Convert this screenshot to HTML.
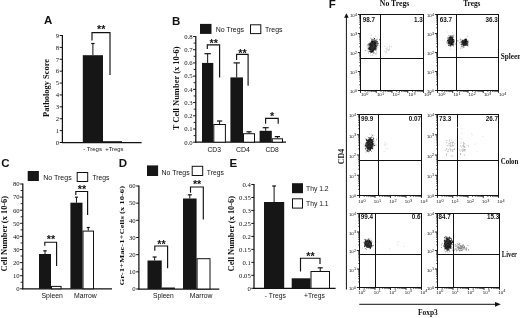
<!DOCTYPE html>
<html><head><meta charset="utf-8"><title>Figure</title>
<style>
html,body{margin:0;padding:0;background:#fff;}
body{width:520px;height:318px;overflow:hidden;}
svg{display:block;}
text.s{font-family:"Liberation Sans",sans-serif;}
text.r{font-family:"Liberation Serif",serif;}
</style></head><body>
<svg width="520" height="318" viewBox="0 0 520 318">
<rect x="0" y="0" width="520" height="318" fill="#fff"/>
<text class="s" x="44" y="24.3" style="font-size:11.5px;font-weight:bold;" fill="#111">A</text>
<line x1="62.4" y1="35.0" x2="62.4" y2="143.0" stroke="#111" stroke-width="1.25"/>
<line x1="61.9" y1="142.5" x2="141.6" y2="142.5" stroke="#111" stroke-width="1.25"/>
<line x1="59.699999999999996" y1="142.5" x2="62.4" y2="142.5" stroke="#111" stroke-width="1"/>
<text class="r" x="59.199999999999996" y="144.8" style="font-size:6.7px;" fill="#111" text-anchor="end">0</text>
<line x1="59.699999999999996" y1="130.61111111111111" x2="62.4" y2="130.61111111111111" stroke="#111" stroke-width="1"/>
<text class="r" x="59.199999999999996" y="132.91111111111113" style="font-size:6.7px;" fill="#111" text-anchor="end">1</text>
<line x1="59.699999999999996" y1="118.72222222222223" x2="62.4" y2="118.72222222222223" stroke="#111" stroke-width="1"/>
<text class="r" x="59.199999999999996" y="121.02222222222223" style="font-size:6.7px;" fill="#111" text-anchor="end">2</text>
<line x1="59.699999999999996" y1="106.83333333333333" x2="62.4" y2="106.83333333333333" stroke="#111" stroke-width="1"/>
<text class="r" x="59.199999999999996" y="109.13333333333333" style="font-size:6.7px;" fill="#111" text-anchor="end">3</text>
<line x1="59.699999999999996" y1="94.94444444444444" x2="62.4" y2="94.94444444444444" stroke="#111" stroke-width="1"/>
<text class="r" x="59.199999999999996" y="97.24444444444444" style="font-size:6.7px;" fill="#111" text-anchor="end">4</text>
<line x1="59.699999999999996" y1="83.05555555555556" x2="62.4" y2="83.05555555555556" stroke="#111" stroke-width="1"/>
<text class="r" x="59.199999999999996" y="85.35555555555555" style="font-size:6.7px;" fill="#111" text-anchor="end">5</text>
<line x1="59.699999999999996" y1="71.16666666666666" x2="62.4" y2="71.16666666666666" stroke="#111" stroke-width="1"/>
<text class="r" x="59.199999999999996" y="73.46666666666665" style="font-size:6.7px;" fill="#111" text-anchor="end">6</text>
<line x1="59.699999999999996" y1="59.27777777777777" x2="62.4" y2="59.27777777777777" stroke="#111" stroke-width="1"/>
<text class="r" x="59.199999999999996" y="61.57777777777777" style="font-size:6.7px;" fill="#111" text-anchor="end">7</text>
<line x1="59.699999999999996" y1="47.388888888888886" x2="62.4" y2="47.388888888888886" stroke="#111" stroke-width="1"/>
<text class="r" x="59.199999999999996" y="49.68888888888888" style="font-size:6.7px;" fill="#111" text-anchor="end">8</text>
<line x1="59.699999999999996" y1="35.5" x2="62.4" y2="35.5" stroke="#111" stroke-width="1"/>
<text class="r" x="59.199999999999996" y="37.8" style="font-size:6.7px;" fill="#111" text-anchor="end">9</text>
<rect x="82.80" y="55.20" width="20.20" height="87.30" fill="#161616"/>
<line x1="92.9" y1="55.2" x2="92.9" y2="43.5" stroke="#111" stroke-width="1"/>
<line x1="91.2" y1="43.5" x2="94.60000000000001" y2="43.5" stroke="#111" stroke-width="1.2"/>
<rect x="103.00" y="141.20" width="19.00" height="1.30" fill="#161616"/>
<polyline points="92,40.5 92,32.6 110,32.6 110,75" fill="none" stroke="#111" stroke-width="1.15"/>
<text class="s" x="101.2" y="32.7128" style="font-size:10.8px;font-weight:bold;" fill="#111" text-anchor="middle">**</text>
<text class="s" x="83.2" y="150.8" style="font-size:6.2px;" fill="#111" textLength="18.8" lengthAdjust="spacingAndGlyphs">- Tregs</text>
<text class="s" x="105.3" y="150.8" style="font-size:6.2px;" fill="#111" textLength="18.2" lengthAdjust="spacingAndGlyphs">+Tregs</text>
<text class="r" x="49" y="117" style="font-size:7.6px;font-weight:bold;" fill="#111" textLength="58" lengthAdjust="spacingAndGlyphs" transform="rotate(-90 49 117)">Pathology Score</text>
<text class="s" x="172" y="24.5" style="font-size:11.5px;font-weight:bold;" fill="#111">B</text>
<rect x="200.00" y="23.90" width="11.50" height="10.00" fill="#161616"/>
<text class="s" x="215.8" y="32.1" style="font-size:7px;" fill="#111" textLength="28.3" lengthAdjust="spacingAndGlyphs">No Tregs</text>
<rect x="250.50" y="24.80" width="10.30" height="8.80" fill="#fff" stroke="#111" stroke-width="1"/>
<text class="s" x="265" y="32.1" style="font-size:7px;" fill="#111" textLength="17.5" lengthAdjust="spacingAndGlyphs">Tregs</text>
<line x1="195.8" y1="36.0" x2="195.8" y2="142.7" stroke="#111" stroke-width="1.25"/>
<line x1="195.3" y1="142.2" x2="286" y2="142.2" stroke="#111" stroke-width="1.25"/>
<line x1="193.60000000000002" y1="135.59375" x2="195.8" y2="135.59375" stroke="#111" stroke-width="0.9"/>
<line x1="193.60000000000002" y1="122.38125" x2="195.8" y2="122.38125" stroke="#111" stroke-width="0.9"/>
<line x1="193.60000000000002" y1="109.16874999999999" x2="195.8" y2="109.16874999999999" stroke="#111" stroke-width="0.9"/>
<line x1="193.60000000000002" y1="95.95625" x2="195.8" y2="95.95625" stroke="#111" stroke-width="0.9"/>
<line x1="193.60000000000002" y1="82.74374999999999" x2="195.8" y2="82.74374999999999" stroke="#111" stroke-width="0.9"/>
<line x1="193.60000000000002" y1="69.53125" x2="195.8" y2="69.53125" stroke="#111" stroke-width="0.9"/>
<line x1="193.60000000000002" y1="56.31875" x2="195.8" y2="56.31875" stroke="#111" stroke-width="0.9"/>
<line x1="193.60000000000002" y1="43.10625" x2="195.8" y2="43.10625" stroke="#111" stroke-width="0.9"/>
<line x1="193.10000000000002" y1="142.2" x2="195.8" y2="142.2" stroke="#111" stroke-width="1"/>
<text class="r" x="192.60000000000002" y="144.5" style="font-size:6.7px;" fill="#111" text-anchor="end">0.0</text>
<line x1="193.10000000000002" y1="128.98749999999998" x2="195.8" y2="128.98749999999998" stroke="#111" stroke-width="1"/>
<text class="r" x="192.60000000000002" y="131.2875" style="font-size:6.7px;" fill="#111" text-anchor="end">0.1</text>
<line x1="193.10000000000002" y1="115.77499999999999" x2="195.8" y2="115.77499999999999" stroke="#111" stroke-width="1"/>
<text class="r" x="192.60000000000002" y="118.07499999999999" style="font-size:6.7px;" fill="#111" text-anchor="end">0.2</text>
<line x1="193.10000000000002" y1="102.5625" x2="195.8" y2="102.5625" stroke="#111" stroke-width="1"/>
<text class="r" x="192.60000000000002" y="104.8625" style="font-size:6.7px;" fill="#111" text-anchor="end">0.3</text>
<line x1="193.10000000000002" y1="89.35" x2="195.8" y2="89.35" stroke="#111" stroke-width="1"/>
<text class="r" x="192.60000000000002" y="91.64999999999999" style="font-size:6.7px;" fill="#111" text-anchor="end">0.4</text>
<line x1="193.10000000000002" y1="76.13749999999999" x2="195.8" y2="76.13749999999999" stroke="#111" stroke-width="1"/>
<text class="r" x="192.60000000000002" y="78.43749999999999" style="font-size:6.7px;" fill="#111" text-anchor="end">0.5</text>
<line x1="193.10000000000002" y1="62.925" x2="195.8" y2="62.925" stroke="#111" stroke-width="1"/>
<text class="r" x="192.60000000000002" y="65.225" style="font-size:6.7px;" fill="#111" text-anchor="end">0.6</text>
<line x1="193.10000000000002" y1="49.712500000000006" x2="195.8" y2="49.712500000000006" stroke="#111" stroke-width="1"/>
<text class="r" x="192.60000000000002" y="52.0125" style="font-size:6.7px;" fill="#111" text-anchor="end">0.7</text>
<line x1="193.10000000000002" y1="36.5" x2="195.8" y2="36.5" stroke="#111" stroke-width="1"/>
<text class="r" x="192.60000000000002" y="38.8" style="font-size:6.7px;" fill="#111" text-anchor="end">0.8</text>
<rect x="202.00" y="62.93" width="11.30" height="79.27" fill="#161616"/>
<line x1="207.65" y1="62.92500000000001" x2="207.65" y2="53.7" stroke="#111" stroke-width="1"/>
<line x1="204.45000000000002" y1="53.7" x2="210.85" y2="53.7" stroke="#111" stroke-width="1.2"/>
<rect x="213.80" y="124.50" width="11.60" height="17.70" fill="#fff" stroke="#111" stroke-width="1"/>
<line x1="219.60000000000002" y1="124" x2="219.60000000000002" y2="121" stroke="#111" stroke-width="1"/>
<line x1="217.00000000000003" y1="121" x2="222.20000000000002" y2="121" stroke="#111" stroke-width="1.2"/>
<rect x="230.40" y="77.40" width="12.60" height="64.80" fill="#161616"/>
<line x1="236.7" y1="77.4" x2="236.7" y2="62.9" stroke="#111" stroke-width="1"/>
<line x1="233.5" y1="62.9" x2="239.89999999999998" y2="62.9" stroke="#111" stroke-width="1.2"/>
<rect x="243.50" y="133.70" width="11.00" height="8.50" fill="#fff" stroke="#111" stroke-width="1"/>
<line x1="249.0" y1="133.2" x2="249.0" y2="131.8" stroke="#111" stroke-width="1"/>
<line x1="246.4" y1="131.8" x2="251.6" y2="131.8" stroke="#111" stroke-width="1.2"/>
<rect x="259.60" y="130.80" width="12.20" height="11.40" fill="#161616"/>
<line x1="265.70000000000005" y1="130.8" x2="265.70000000000005" y2="127.7" stroke="#111" stroke-width="1"/>
<line x1="262.70000000000005" y1="127.7" x2="268.70000000000005" y2="127.7" stroke="#111" stroke-width="1.2"/>
<rect x="272.30" y="138.80" width="10.20" height="3.40" fill="#fff" stroke="#111" stroke-width="1"/>
<line x1="277.4" y1="138.3" x2="277.4" y2="136.6" stroke="#111" stroke-width="1"/>
<line x1="274.79999999999995" y1="136.6" x2="280.0" y2="136.6" stroke="#111" stroke-width="1.2"/>
<polyline points="207.3,49 207.3,44.8 219.6,44.8 219.6,77.5" fill="none" stroke="#111" stroke-width="1.15"/>
<text class="s" x="213.64999999999998" y="46.61279999999999" style="font-size:10.8px;font-weight:bold;" fill="#111" text-anchor="middle">**</text>
<polyline points="236.6,60 236.6,54.4 248.1,54.4 248.1,85.8" fill="none" stroke="#111" stroke-width="1.15"/>
<text class="s" x="242.54999999999998" y="56.5128" style="font-size:10.8px;font-weight:bold;" fill="#111" text-anchor="middle">**</text>
<polyline points="265.6,123.8 265.6,118.4 278.2,118.4 278.2,123.8" fill="none" stroke="#111" stroke-width="1.15"/>
<text class="s" x="272.09999999999997" y="119.9128" style="font-size:10.8px;font-weight:bold;" fill="#111" text-anchor="middle">*</text>
<text class="s" x="207.5" y="151.5" style="font-size:7.3px;" fill="#111" textLength="13.5" lengthAdjust="spacingAndGlyphs">CD3</text>
<text class="s" x="236" y="151.5" style="font-size:7.3px;" fill="#111" textLength="14" lengthAdjust="spacingAndGlyphs">CD4</text>
<text class="s" x="265.5" y="151.5" style="font-size:7.3px;" fill="#111" textLength="13.3" lengthAdjust="spacingAndGlyphs">CD8</text>
<text class="r" x="178.7" y="130.3" style="font-size:7.4px;font-weight:bold;" fill="#111" textLength="84" lengthAdjust="spacingAndGlyphs" transform="rotate(-90 178.7 130.3)">T Cell Number (x 10-6)</text>
<text class="s" x="1.3" y="167.2" style="font-size:11.5px;font-weight:bold;" fill="#111">C</text>
<rect x="27.70" y="171.00" width="11.20" height="10.00" fill="#161616"/>
<text class="s" x="43.2" y="179.5" style="font-size:7px;" fill="#111" textLength="28.5" lengthAdjust="spacingAndGlyphs">No Tregs</text>
<rect x="77.20" y="172.50" width="10.50" height="9.00" fill="#fff" stroke="#111" stroke-width="1"/>
<text class="s" x="92.5" y="179.5" style="font-size:7px;" fill="#111" textLength="17" lengthAdjust="spacingAndGlyphs">Tregs</text>
<line x1="22.8" y1="183.5" x2="22.8" y2="289.3" stroke="#111" stroke-width="1.25"/>
<line x1="22.3" y1="288.8" x2="112" y2="288.8" stroke="#111" stroke-width="1.25"/>
<line x1="20.6" y1="282.25" x2="22.8" y2="282.25" stroke="#111" stroke-width="0.9"/>
<line x1="20.6" y1="269.15" x2="22.8" y2="269.15" stroke="#111" stroke-width="0.9"/>
<line x1="20.6" y1="256.05" x2="22.8" y2="256.05" stroke="#111" stroke-width="0.9"/>
<line x1="20.6" y1="242.95" x2="22.8" y2="242.95" stroke="#111" stroke-width="0.9"/>
<line x1="20.6" y1="229.85000000000002" x2="22.8" y2="229.85000000000002" stroke="#111" stroke-width="0.9"/>
<line x1="20.6" y1="216.75" x2="22.8" y2="216.75" stroke="#111" stroke-width="0.9"/>
<line x1="20.6" y1="203.64999999999998" x2="22.8" y2="203.64999999999998" stroke="#111" stroke-width="0.9"/>
<line x1="20.6" y1="190.55" x2="22.8" y2="190.55" stroke="#111" stroke-width="0.9"/>
<line x1="20.1" y1="288.8" x2="22.8" y2="288.8" stroke="#111" stroke-width="1"/>
<text class="r" x="19.6" y="291.1" style="font-size:6.7px;" fill="#111" text-anchor="end">0</text>
<line x1="20.1" y1="275.7" x2="22.8" y2="275.7" stroke="#111" stroke-width="1"/>
<text class="r" x="19.6" y="278.0" style="font-size:6.7px;" fill="#111" text-anchor="end">10</text>
<line x1="20.1" y1="262.6" x2="22.8" y2="262.6" stroke="#111" stroke-width="1"/>
<text class="r" x="19.6" y="264.90000000000003" style="font-size:6.7px;" fill="#111" text-anchor="end">20</text>
<line x1="20.1" y1="249.5" x2="22.8" y2="249.5" stroke="#111" stroke-width="1"/>
<text class="r" x="19.6" y="251.8" style="font-size:6.7px;" fill="#111" text-anchor="end">30</text>
<line x1="20.1" y1="236.4" x2="22.8" y2="236.4" stroke="#111" stroke-width="1"/>
<text class="r" x="19.6" y="238.70000000000002" style="font-size:6.7px;" fill="#111" text-anchor="end">40</text>
<line x1="20.1" y1="223.3" x2="22.8" y2="223.3" stroke="#111" stroke-width="1"/>
<text class="r" x="19.6" y="225.60000000000002" style="font-size:6.7px;" fill="#111" text-anchor="end">50</text>
<line x1="20.1" y1="210.2" x2="22.8" y2="210.2" stroke="#111" stroke-width="1"/>
<text class="r" x="19.6" y="212.5" style="font-size:6.7px;" fill="#111" text-anchor="end">60</text>
<line x1="20.1" y1="197.1" x2="22.8" y2="197.1" stroke="#111" stroke-width="1"/>
<text class="r" x="19.6" y="199.4" style="font-size:6.7px;" fill="#111" text-anchor="end">70</text>
<line x1="20.1" y1="184.0" x2="22.8" y2="184.0" stroke="#111" stroke-width="1"/>
<text class="r" x="19.6" y="186.3" style="font-size:6.7px;" fill="#111" text-anchor="end">80</text>
<rect x="39.00" y="254.00" width="12.00" height="34.80" fill="#161616"/>
<line x1="45.0" y1="254" x2="45.0" y2="250.8" stroke="#111" stroke-width="1"/>
<line x1="43.3" y1="250.8" x2="46.7" y2="250.8" stroke="#111" stroke-width="1.2"/>
<rect x="51.50" y="286.40" width="9.60" height="2.40" fill="#fff" stroke="#111" stroke-width="1"/>
<rect x="70.40" y="202.70" width="12.10" height="86.10" fill="#161616"/>
<line x1="76.45" y1="202.7" x2="76.45" y2="197.2" stroke="#111" stroke-width="1"/>
<line x1="74.95" y1="197.2" x2="77.95" y2="197.2" stroke="#111" stroke-width="1.2"/>
<rect x="83.00" y="231.10" width="10.50" height="57.70" fill="#fff" stroke="#111" stroke-width="1"/>
<line x1="88.25" y1="230.6" x2="88.25" y2="227.5" stroke="#111" stroke-width="1"/>
<line x1="86.75" y1="227.5" x2="89.75" y2="227.5" stroke="#111" stroke-width="1.2"/>
<polyline points="44.8,245.7 44.8,242.2 56.6,242.2 56.6,266" fill="none" stroke="#111" stroke-width="1.15"/>
<text class="s" x="50.900000000000006" y="243.4128" style="font-size:10.8px;font-weight:bold;" fill="#111" text-anchor="middle">**</text>
<polyline points="75.8,195 75.8,191.5 87.6,191.5 87.6,215" fill="none" stroke="#111" stroke-width="1.15"/>
<text class="s" x="81.89999999999999" y="193.0128" style="font-size:10.8px;font-weight:bold;" fill="#111" text-anchor="middle">**</text>
<text class="s" x="41.5" y="297.8" style="font-size:7.3px;" fill="#111" textLength="21.4" lengthAdjust="spacingAndGlyphs">Spleen</text>
<text class="s" x="74" y="297.8" style="font-size:7.3px;" fill="#111" textLength="22.8" lengthAdjust="spacingAndGlyphs">Marrow</text>
<text class="r" x="7.3" y="271.4" style="font-size:7.4px;font-weight:bold;" fill="#111" textLength="75.5" lengthAdjust="spacingAndGlyphs" transform="rotate(-90 7.3 271.4)">Cell Number (x 10-6)</text>
<text class="s" x="118.8" y="167.2" style="font-size:11.5px;font-weight:bold;" fill="#111">D</text>
<rect x="147.00" y="165.40" width="11.10" height="10.60" fill="#161616"/>
<text class="s" x="161.5" y="174.6" style="font-size:7px;" fill="#111" textLength="28.2" lengthAdjust="spacingAndGlyphs">No Tregs</text>
<rect x="192.20" y="166.30" width="10.50" height="9.20" fill="#fff" stroke="#111" stroke-width="1"/>
<text class="s" x="206.8" y="174.6" style="font-size:7px;" fill="#111" textLength="17" lengthAdjust="spacingAndGlyphs">Tregs</text>
<line x1="138.9" y1="185.5" x2="138.9" y2="289.5" stroke="#111" stroke-width="1.25"/>
<line x1="138.4" y1="289" x2="219.3" y2="289" stroke="#111" stroke-width="1.25"/>
<line x1="136.20000000000002" y1="289.0" x2="138.9" y2="289.0" stroke="#111" stroke-width="1"/>
<text class="r" x="135.70000000000002" y="291.3" style="font-size:6.7px;" fill="#111" text-anchor="end">0</text>
<line x1="136.20000000000002" y1="271.8333333333333" x2="138.9" y2="271.8333333333333" stroke="#111" stroke-width="1"/>
<text class="r" x="135.70000000000002" y="274.1333333333333" style="font-size:6.7px;" fill="#111" text-anchor="end">10</text>
<line x1="136.20000000000002" y1="254.66666666666666" x2="138.9" y2="254.66666666666666" stroke="#111" stroke-width="1"/>
<text class="r" x="135.70000000000002" y="256.96666666666664" style="font-size:6.7px;" fill="#111" text-anchor="end">20</text>
<line x1="136.20000000000002" y1="237.5" x2="138.9" y2="237.5" stroke="#111" stroke-width="1"/>
<text class="r" x="135.70000000000002" y="239.8" style="font-size:6.7px;" fill="#111" text-anchor="end">30</text>
<line x1="136.20000000000002" y1="220.33333333333331" x2="138.9" y2="220.33333333333331" stroke="#111" stroke-width="1"/>
<text class="r" x="135.70000000000002" y="222.63333333333333" style="font-size:6.7px;" fill="#111" text-anchor="end">40</text>
<line x1="136.20000000000002" y1="203.16666666666666" x2="138.9" y2="203.16666666666666" stroke="#111" stroke-width="1"/>
<text class="r" x="135.70000000000002" y="205.46666666666667" style="font-size:6.7px;" fill="#111" text-anchor="end">50</text>
<line x1="136.20000000000002" y1="186.0" x2="138.9" y2="186.0" stroke="#111" stroke-width="1"/>
<text class="r" x="135.70000000000002" y="188.3" style="font-size:6.7px;" fill="#111" text-anchor="end">60</text>
<rect x="147.50" y="260.50" width="14.25" height="28.50" fill="#161616"/>
<line x1="154.625" y1="260.5" x2="154.625" y2="257" stroke="#111" stroke-width="1"/>
<line x1="152.625" y1="257" x2="156.625" y2="257" stroke="#111" stroke-width="1.2"/>
<rect x="161.75" y="287.50" width="13.20" height="1.50" fill="#161616"/>
<rect x="183.00" y="198.50" width="13.60" height="90.50" fill="#161616"/>
<line x1="189.8" y1="198.5" x2="189.8" y2="194.8" stroke="#111" stroke-width="1"/>
<line x1="187.8" y1="194.8" x2="191.8" y2="194.8" stroke="#111" stroke-width="1.2"/>
<rect x="197.10" y="258.70" width="12.90" height="30.30" fill="#fff" stroke="#111" stroke-width="1"/>
<polyline points="154.8,250.7 154.8,246 167.6,246 167.6,268.3" fill="none" stroke="#111" stroke-width="1.15"/>
<text class="s" x="161.39999999999998" y="247.5128" style="font-size:10.8px;font-weight:bold;" fill="#111" text-anchor="middle">**</text>
<polyline points="190.5,192.7 190.5,187 203.3,187 203.3,219.5" fill="none" stroke="#111" stroke-width="1.15"/>
<text class="s" x="197.1" y="188.3128" style="font-size:10.8px;font-weight:bold;" fill="#111" text-anchor="middle">**</text>
<text class="s" x="153" y="298" style="font-size:7.3px;" fill="#111" textLength="20.8" lengthAdjust="spacingAndGlyphs">Spleen</text>
<text class="s" x="189.8" y="298" style="font-size:7.3px;" fill="#111" textLength="22.7" lengthAdjust="spacingAndGlyphs">Marrow</text>
<text class="r" x="124.4" y="285.4" style="font-size:7.1px;font-weight:bold;" fill="#111" textLength="99.5" lengthAdjust="spacingAndGlyphs" transform="rotate(-90 124.4 285.4)">Gr-1+Mac-1+Cells (x 10-6)</text>
<text class="s" x="229.6" y="167.2" style="font-size:11.5px;font-weight:bold;" fill="#111">E</text>
<line x1="254" y1="184.0" x2="254" y2="288.8" stroke="#111" stroke-width="1.25"/>
<line x1="253.5" y1="288.3" x2="335.6" y2="288.3" stroke="#111" stroke-width="1.25"/>
<line x1="251.3" y1="288.3" x2="254" y2="288.3" stroke="#111" stroke-width="1"/>
<text class="r" x="250.8" y="290.6" style="font-size:6.7px;" fill="#111" text-anchor="end">0</text>
<line x1="251.3" y1="275.325" x2="254" y2="275.325" stroke="#111" stroke-width="1"/>
<text class="r" x="250.8" y="277.625" style="font-size:6.7px;" fill="#111" text-anchor="end">0.05</text>
<line x1="251.3" y1="262.35" x2="254" y2="262.35" stroke="#111" stroke-width="1"/>
<text class="r" x="250.8" y="264.65000000000003" style="font-size:6.7px;" fill="#111" text-anchor="end">0.1</text>
<line x1="251.3" y1="249.375" x2="254" y2="249.375" stroke="#111" stroke-width="1"/>
<text class="r" x="250.8" y="251.675" style="font-size:6.7px;" fill="#111" text-anchor="end">0.15</text>
<line x1="251.3" y1="236.4" x2="254" y2="236.4" stroke="#111" stroke-width="1"/>
<text class="r" x="250.8" y="238.70000000000002" style="font-size:6.7px;" fill="#111" text-anchor="end">0.2</text>
<line x1="251.3" y1="223.425" x2="254" y2="223.425" stroke="#111" stroke-width="1"/>
<text class="r" x="250.8" y="225.72500000000002" style="font-size:6.7px;" fill="#111" text-anchor="end">0.25</text>
<line x1="251.3" y1="210.45" x2="254" y2="210.45" stroke="#111" stroke-width="1"/>
<text class="r" x="250.8" y="212.75" style="font-size:6.7px;" fill="#111" text-anchor="end">0.3</text>
<line x1="251.3" y1="197.475" x2="254" y2="197.475" stroke="#111" stroke-width="1"/>
<text class="r" x="250.8" y="199.775" style="font-size:6.7px;" fill="#111" text-anchor="end">0.35</text>
<line x1="251.3" y1="184.5" x2="254" y2="184.5" stroke="#111" stroke-width="1"/>
<text class="r" x="250.8" y="186.8" style="font-size:6.7px;" fill="#111" text-anchor="end">0.4</text>
<rect x="264.00" y="202.00" width="20.20" height="86.30" fill="#161616"/>
<line x1="274.1" y1="202" x2="274.1" y2="186" stroke="#111" stroke-width="1"/>
<line x1="272.20000000000005" y1="186" x2="276.0" y2="186" stroke="#111" stroke-width="1.2"/>
<rect x="291.70" y="278.30" width="18.80" height="10.00" fill="#161616"/>
<rect x="311.00" y="271.50" width="18.50" height="16.80" fill="#fff" stroke="#111" stroke-width="1"/>
<line x1="320.25" y1="271" x2="320.25" y2="267.8" stroke="#111" stroke-width="1"/>
<line x1="317.75" y1="267.8" x2="322.75" y2="267.8" stroke="#111" stroke-width="1.2"/>
<polyline points="300.5,271.5 300.5,258.2 320,258.2 320,264" fill="none" stroke="#111" stroke-width="1.15"/>
<text class="s" x="310.45" y="259.9128" style="font-size:10.8px;font-weight:bold;" fill="#111" text-anchor="middle">**</text>
<rect x="292.00" y="183.20" width="11.00" height="10.00" fill="#161616"/>
<text class="s" x="306" y="191" style="font-size:7px;" fill="#111" textLength="22.6" lengthAdjust="spacingAndGlyphs">Thy 1.2</text>
<rect x="292.50" y="198.80" width="10.00" height="9.30" fill="#fff" stroke="#111" stroke-width="1"/>
<text class="s" x="306" y="205.8" style="font-size:7px;" fill="#111" textLength="22.6" lengthAdjust="spacingAndGlyphs">Thy 1.1</text>
<text class="s" x="264.8" y="297.9" style="font-size:7.3px;" fill="#111" textLength="21" lengthAdjust="spacingAndGlyphs">- Tregs</text>
<text class="s" x="304" y="297.9" style="font-size:7.3px;" fill="#111" textLength="20.8" lengthAdjust="spacingAndGlyphs">+Tregs</text>
<text class="r" x="234.2" y="271.4" style="font-size:7.4px;font-weight:bold;" fill="#111" textLength="75.5" lengthAdjust="spacingAndGlyphs" transform="rotate(-90 234.2 271.4)">Cell Number (x 10-6)</text>
<text class="s" x="328.8" y="7.6" style="font-size:11.5px;font-weight:bold;" fill="#111">F</text>
<text class="r" x="379.8" y="5.5" style="font-size:7.6px;font-weight:bold;" fill="#111" textLength="29.5" lengthAdjust="spacingAndGlyphs">No Tregs</text>
<text class="r" x="463.2" y="5.5" style="font-size:7.6px;font-weight:bold;" fill="#111" textLength="17.2" lengthAdjust="spacingAndGlyphs">Tregs</text>
<line x1="346.4" y1="17" x2="346.4" y2="289.5" stroke="#111" stroke-width="1"/>
<polygon points="346.4,13.3 344.1,17.8 348.7,17.8" fill="#111"/>
<line x1="359.3" y1="304.3" x2="497" y2="304.3" stroke="#111" stroke-width="1"/>
<polygon points="500.8,304.3 495,301.9 495,306.7" fill="#111"/>
<text class="r" x="418.0" y="314.6" style="font-size:7.8px;font-weight:bold;" fill="#111" textLength="19.8" lengthAdjust="spacingAndGlyphs">Foxp3</text>
<text class="r" x="344" y="164.3" style="font-size:7.8px;font-weight:bold;" fill="#111" textLength="15.5" lengthAdjust="spacingAndGlyphs" transform="rotate(-90 344 164.3)">CD4</text>
<text class="r" x="500.8" y="58.6" style="font-size:8px;font-weight:bold;" fill="#111" textLength="20.4" lengthAdjust="spacingAndGlyphs">Spleen</text>
<text class="r" x="500.8" y="164.2" style="font-size:8px;font-weight:bold;" fill="#111" textLength="17.6" lengthAdjust="spacingAndGlyphs">Colon</text>
<text class="r" x="501.8" y="256.6" style="font-size:8px;font-weight:bold;" fill="#111" textLength="15.2" lengthAdjust="spacingAndGlyphs">Liver</text>
<defs><filter id="bl" x="-20%" y="-20%" width="140%" height="140%"><feGaussianBlur stdDeviation="0.35"/></filter></defs>
<rect x="360.50" y="14.50" width="63.00" height="76.00" fill="#fff" stroke="#111" stroke-width="1"/>
<line x1="380.5" y1="14.5" x2="380.5" y2="90.5" stroke="#111" stroke-width="1"/>
<line x1="360.5" y1="58.5" x2="423.5" y2="58.5" stroke="#111" stroke-width="1"/>
<path d="M359.0 84.8h1.5M365.2 90.5v1.5M359.0 81.4h1.5M368.0 90.5v1.5M359.0 79.1h1.5M370.0 90.5v1.5M359.0 77.2h1.5M371.5 90.5v1.5M359.0 75.7h1.5M372.8 90.5v1.5M359.0 74.4h1.5M373.8 90.5v1.5M359.0 73.3h1.5M374.7 90.5v1.5M359.0 72.4h1.5M375.5 90.5v1.5M359.0 65.8h1.5M381.0 90.5v1.5M359.0 62.4h1.5M383.8 90.5v1.5M359.0 60.1h1.5M385.7 90.5v1.5M359.0 58.2h1.5M387.3 90.5v1.5M359.0 56.7h1.5M388.5 90.5v1.5M359.0 55.4h1.5M389.6 90.5v1.5M359.0 54.3h1.5M390.5 90.5v1.5M359.0 53.4h1.5M391.3 90.5v1.5M359.0 46.8h1.5M396.7 90.5v1.5M359.0 43.4h1.5M399.5 90.5v1.5M359.0 41.1h1.5M401.5 90.5v1.5M359.0 39.2h1.5M403.0 90.5v1.5M359.0 37.7h1.5M404.3 90.5v1.5M359.0 36.4h1.5M405.3 90.5v1.5M359.0 35.3h1.5M406.2 90.5v1.5M359.0 34.4h1.5M407.0 90.5v1.5M359.0 27.8h1.5M412.5 90.5v1.5M359.0 24.4h1.5M415.3 90.5v1.5M359.0 22.1h1.5M417.2 90.5v1.5M359.0 20.2h1.5M418.8 90.5v1.5M359.0 18.7h1.5M420.0 90.5v1.5M359.0 17.4h1.5M421.1 90.5v1.5M359.0 16.3h1.5M422.0 90.5v1.5M359.0 15.4h1.5M422.8 90.5v1.5" stroke="#222" stroke-width="0.7" fill="none"/>
<line x1="357.9" y1="90.5" x2="360.5" y2="90.5" stroke="#111" stroke-width="0.9"/>
<line x1="360.5" y1="90.5" x2="360.5" y2="92.9" stroke="#111" stroke-width="0.9"/>
<text class="s" x="349.9" y="93.4" style="font-size:4.4px" fill="#111">10<tspan dx="0.2" dy="-1.9" style="font-size:3.8px">0</tspan></text>
<text class="s" x="361.1" y="96.4" style="font-size:4.4px" fill="#111">10<tspan dx="0.2" dy="-1.9" style="font-size:3.8px">0</tspan></text>
<line x1="357.9" y1="71.5" x2="360.5" y2="71.5" stroke="#111" stroke-width="0.9"/>
<line x1="376.25" y1="90.5" x2="376.25" y2="92.9" stroke="#111" stroke-width="0.9"/>
<text class="s" x="349.9" y="74.4" style="font-size:4.4px" fill="#111">10<tspan dx="0.2" dy="-1.9" style="font-size:3.8px">1</tspan></text>
<text class="s" x="376.9" y="96.4" style="font-size:4.4px" fill="#111">10<tspan dx="0.2" dy="-1.9" style="font-size:3.8px">1</tspan></text>
<line x1="357.9" y1="52.5" x2="360.5" y2="52.5" stroke="#111" stroke-width="0.9"/>
<line x1="392.0" y1="90.5" x2="392.0" y2="92.9" stroke="#111" stroke-width="0.9"/>
<text class="s" x="349.9" y="55.4" style="font-size:4.4px" fill="#111">10<tspan dx="0.2" dy="-1.9" style="font-size:3.8px">2</tspan></text>
<text class="s" x="392.6" y="96.4" style="font-size:4.4px" fill="#111">10<tspan dx="0.2" dy="-1.9" style="font-size:3.8px">2</tspan></text>
<line x1="357.9" y1="33.5" x2="360.5" y2="33.5" stroke="#111" stroke-width="0.9"/>
<line x1="407.75" y1="90.5" x2="407.75" y2="92.9" stroke="#111" stroke-width="0.9"/>
<text class="s" x="349.9" y="36.4" style="font-size:4.4px" fill="#111">10<tspan dx="0.2" dy="-1.9" style="font-size:3.8px">3</tspan></text>
<text class="s" x="408.4" y="96.4" style="font-size:4.4px" fill="#111">10<tspan dx="0.2" dy="-1.9" style="font-size:3.8px">3</tspan></text>
<line x1="357.9" y1="14.5" x2="360.5" y2="14.5" stroke="#111" stroke-width="0.9"/>
<line x1="423.5" y1="90.5" x2="423.5" y2="92.9" stroke="#111" stroke-width="0.9"/>
<text class="s" x="349.9" y="17.4" style="font-size:4.4px" fill="#111">10<tspan dx="0.2" dy="-1.9" style="font-size:3.8px">4</tspan></text>
<text class="s" x="424.1" y="96.4" style="font-size:4.4px" fill="#111">10<tspan dx="0.2" dy="-1.9" style="font-size:3.8px">4</tspan></text>
<text class="s" x="362.7" y="21.7" style="font-size:6.3px;font-weight:bold;" fill="#111">98.7</text>
<text class="s" x="422.7" y="21.7" style="font-size:6.3px;font-weight:bold;" fill="#111" text-anchor="end">1.3</text>
<rect x="437.50" y="14.50" width="61.00" height="76.00" fill="#fff" stroke="#111" stroke-width="1"/>
<line x1="456.5" y1="14.5" x2="456.5" y2="90.5" stroke="#111" stroke-width="1"/>
<line x1="437.5" y1="57.5" x2="498.5" y2="57.5" stroke="#111" stroke-width="1"/>
<path d="M436.0 84.8h1.5M442.1 90.5v1.5M436.0 81.4h1.5M444.8 90.5v1.5M436.0 79.1h1.5M446.7 90.5v1.5M436.0 77.2h1.5M448.2 90.5v1.5M436.0 75.7h1.5M449.4 90.5v1.5M436.0 74.4h1.5M450.4 90.5v1.5M436.0 73.3h1.5M451.3 90.5v1.5M436.0 72.4h1.5M452.1 90.5v1.5M436.0 65.8h1.5M457.3 90.5v1.5M436.0 62.4h1.5M460.0 90.5v1.5M436.0 60.1h1.5M461.9 90.5v1.5M436.0 58.2h1.5M463.4 90.5v1.5M436.0 56.7h1.5M464.6 90.5v1.5M436.0 55.4h1.5M465.6 90.5v1.5M436.0 54.3h1.5M466.5 90.5v1.5M436.0 53.4h1.5M467.3 90.5v1.5M436.0 46.8h1.5M472.6 90.5v1.5M436.0 43.4h1.5M475.3 90.5v1.5M436.0 41.1h1.5M477.2 90.5v1.5M436.0 39.2h1.5M478.7 90.5v1.5M436.0 37.7h1.5M479.9 90.5v1.5M436.0 36.4h1.5M480.9 90.5v1.5M436.0 35.3h1.5M481.8 90.5v1.5M436.0 34.4h1.5M482.6 90.5v1.5M436.0 27.8h1.5M487.8 90.5v1.5M436.0 24.4h1.5M490.5 90.5v1.5M436.0 22.1h1.5M492.4 90.5v1.5M436.0 20.2h1.5M493.9 90.5v1.5M436.0 18.7h1.5M495.1 90.5v1.5M436.0 17.4h1.5M496.1 90.5v1.5M436.0 16.3h1.5M497.0 90.5v1.5M436.0 15.4h1.5M497.8 90.5v1.5" stroke="#222" stroke-width="0.7" fill="none"/>
<line x1="434.9" y1="90.5" x2="437.5" y2="90.5" stroke="#111" stroke-width="0.9"/>
<line x1="437.5" y1="90.5" x2="437.5" y2="92.9" stroke="#111" stroke-width="0.9"/>
<text class="s" x="426.9" y="93.4" style="font-size:4.4px" fill="#111">10<tspan dx="0.2" dy="-1.9" style="font-size:3.8px">0</tspan></text>
<text class="s" x="438.1" y="96.4" style="font-size:4.4px" fill="#111">10<tspan dx="0.2" dy="-1.9" style="font-size:3.8px">0</tspan></text>
<line x1="434.9" y1="71.5" x2="437.5" y2="71.5" stroke="#111" stroke-width="0.9"/>
<line x1="452.75" y1="90.5" x2="452.75" y2="92.9" stroke="#111" stroke-width="0.9"/>
<text class="s" x="426.9" y="74.4" style="font-size:4.4px" fill="#111">10<tspan dx="0.2" dy="-1.9" style="font-size:3.8px">1</tspan></text>
<text class="s" x="453.4" y="96.4" style="font-size:4.4px" fill="#111">10<tspan dx="0.2" dy="-1.9" style="font-size:3.8px">1</tspan></text>
<line x1="434.9" y1="52.5" x2="437.5" y2="52.5" stroke="#111" stroke-width="0.9"/>
<line x1="468.0" y1="90.5" x2="468.0" y2="92.9" stroke="#111" stroke-width="0.9"/>
<text class="s" x="426.9" y="55.4" style="font-size:4.4px" fill="#111">10<tspan dx="0.2" dy="-1.9" style="font-size:3.8px">2</tspan></text>
<text class="s" x="468.6" y="96.4" style="font-size:4.4px" fill="#111">10<tspan dx="0.2" dy="-1.9" style="font-size:3.8px">2</tspan></text>
<line x1="434.9" y1="33.5" x2="437.5" y2="33.5" stroke="#111" stroke-width="0.9"/>
<line x1="483.25" y1="90.5" x2="483.25" y2="92.9" stroke="#111" stroke-width="0.9"/>
<text class="s" x="426.9" y="36.4" style="font-size:4.4px" fill="#111">10<tspan dx="0.2" dy="-1.9" style="font-size:3.8px">3</tspan></text>
<text class="s" x="483.9" y="96.4" style="font-size:4.4px" fill="#111">10<tspan dx="0.2" dy="-1.9" style="font-size:3.8px">3</tspan></text>
<line x1="434.9" y1="14.5" x2="437.5" y2="14.5" stroke="#111" stroke-width="0.9"/>
<line x1="498.5" y1="90.5" x2="498.5" y2="92.9" stroke="#111" stroke-width="0.9"/>
<text class="s" x="426.9" y="17.4" style="font-size:4.4px" fill="#111">10<tspan dx="0.2" dy="-1.9" style="font-size:3.8px">4</tspan></text>
<text class="s" x="499.1" y="96.4" style="font-size:4.4px" fill="#111">10<tspan dx="0.2" dy="-1.9" style="font-size:3.8px">4</tspan></text>
<text class="s" x="439.7" y="21.7" style="font-size:6.3px;font-weight:bold;" fill="#111">63.7</text>
<text class="s" x="497.7" y="21.7" style="font-size:6.3px;font-weight:bold;" fill="#111" text-anchor="end">36.3</text>
<rect x="359.50" y="114.50" width="62.00" height="81.00" fill="#fff" stroke="#111" stroke-width="1"/>
<line x1="378.5" y1="114.5" x2="378.5" y2="195.5" stroke="#111" stroke-width="1"/>
<line x1="359.5" y1="160.5" x2="421.5" y2="160.5" stroke="#111" stroke-width="1"/>
<path d="M358.0 189.4h1.5M364.2 195.5v1.5M358.0 185.8h1.5M366.9 195.5v1.5M358.0 183.3h1.5M368.8 195.5v1.5M358.0 181.3h1.5M370.3 195.5v1.5M358.0 179.7h1.5M371.6 195.5v1.5M358.0 178.4h1.5M372.6 195.5v1.5M358.0 177.2h1.5M373.5 195.5v1.5M358.0 176.2h1.5M374.3 195.5v1.5M358.0 169.2h1.5M379.7 195.5v1.5M358.0 165.6h1.5M382.4 195.5v1.5M358.0 163.1h1.5M384.3 195.5v1.5M358.0 161.1h1.5M385.8 195.5v1.5M358.0 159.5h1.5M387.1 195.5v1.5M358.0 158.1h1.5M388.1 195.5v1.5M358.0 157.0h1.5M389.0 195.5v1.5M358.0 155.9h1.5M389.8 195.5v1.5M358.0 148.9h1.5M395.2 195.5v1.5M358.0 145.3h1.5M397.9 195.5v1.5M358.0 142.8h1.5M399.8 195.5v1.5M358.0 140.8h1.5M401.3 195.5v1.5M358.0 139.2h1.5M402.6 195.5v1.5M358.0 137.9h1.5M403.6 195.5v1.5M358.0 136.7h1.5M404.5 195.5v1.5M358.0 135.7h1.5M405.3 195.5v1.5M358.0 128.7h1.5M410.7 195.5v1.5M358.0 125.1h1.5M413.4 195.5v1.5M358.0 122.6h1.5M415.3 195.5v1.5M358.0 120.6h1.5M416.8 195.5v1.5M358.0 119.0h1.5M418.1 195.5v1.5M358.0 117.6h1.5M419.1 195.5v1.5M358.0 116.5h1.5M420.0 195.5v1.5M358.0 115.4h1.5M420.8 195.5v1.5" stroke="#222" stroke-width="0.7" fill="none"/>
<line x1="356.9" y1="195.5" x2="359.5" y2="195.5" stroke="#111" stroke-width="0.9"/>
<line x1="359.5" y1="195.5" x2="359.5" y2="197.9" stroke="#111" stroke-width="0.9"/>
<text class="s" x="348.9" y="198.4" style="font-size:4.4px" fill="#111">10<tspan dx="0.2" dy="-1.9" style="font-size:3.8px">0</tspan></text>
<text class="s" x="358.3" y="203.4" style="font-size:4.4px" fill="#111">10<tspan dx="0.2" dy="-1.9" style="font-size:3.8px">0</tspan></text>
<line x1="356.9" y1="175.25" x2="359.5" y2="175.25" stroke="#111" stroke-width="0.9"/>
<line x1="375.0" y1="195.5" x2="375.0" y2="197.9" stroke="#111" stroke-width="0.9"/>
<text class="s" x="348.9" y="178.2" style="font-size:4.4px" fill="#111">10<tspan dx="0.2" dy="-1.9" style="font-size:3.8px">1</tspan></text>
<text class="s" x="373.8" y="203.4" style="font-size:4.4px" fill="#111">10<tspan dx="0.2" dy="-1.9" style="font-size:3.8px">1</tspan></text>
<line x1="356.9" y1="155.0" x2="359.5" y2="155.0" stroke="#111" stroke-width="0.9"/>
<line x1="390.5" y1="195.5" x2="390.5" y2="197.9" stroke="#111" stroke-width="0.9"/>
<text class="s" x="348.9" y="157.9" style="font-size:4.4px" fill="#111">10<tspan dx="0.2" dy="-1.9" style="font-size:3.8px">2</tspan></text>
<text class="s" x="389.3" y="203.4" style="font-size:4.4px" fill="#111">10<tspan dx="0.2" dy="-1.9" style="font-size:3.8px">2</tspan></text>
<line x1="356.9" y1="134.75" x2="359.5" y2="134.75" stroke="#111" stroke-width="0.9"/>
<line x1="406.0" y1="195.5" x2="406.0" y2="197.9" stroke="#111" stroke-width="0.9"/>
<text class="s" x="348.9" y="137.7" style="font-size:4.4px" fill="#111">10<tspan dx="0.2" dy="-1.9" style="font-size:3.8px">3</tspan></text>
<text class="s" x="404.8" y="203.4" style="font-size:4.4px" fill="#111">10<tspan dx="0.2" dy="-1.9" style="font-size:3.8px">3</tspan></text>
<line x1="356.9" y1="114.5" x2="359.5" y2="114.5" stroke="#111" stroke-width="0.9"/>
<line x1="421.5" y1="195.5" x2="421.5" y2="197.9" stroke="#111" stroke-width="0.9"/>
<text class="s" x="348.9" y="117.4" style="font-size:4.4px" fill="#111">10<tspan dx="0.2" dy="-1.9" style="font-size:3.8px">4</tspan></text>
<text class="s" x="420.3" y="203.4" style="font-size:4.4px" fill="#111">10<tspan dx="0.2" dy="-1.9" style="font-size:3.8px">4</tspan></text>
<text class="s" x="361.0" y="121.1" style="font-size:6.3px;font-weight:bold;" fill="#111">99.9</text>
<text class="s" x="421.1" y="121.1" style="font-size:6.3px;font-weight:bold;" fill="#111" text-anchor="end">0.07</text>
<rect x="437.50" y="114.50" width="61.00" height="81.00" fill="#fff" stroke="#111" stroke-width="1"/>
<line x1="457.5" y1="114.5" x2="457.5" y2="195.5" stroke="#111" stroke-width="1"/>
<line x1="437.5" y1="160.5" x2="498.5" y2="160.5" stroke="#111" stroke-width="1"/>
<path d="M436.0 189.4h1.5M442.1 195.5v1.5M436.0 185.8h1.5M444.8 195.5v1.5M436.0 183.3h1.5M446.7 195.5v1.5M436.0 181.3h1.5M448.2 195.5v1.5M436.0 179.7h1.5M449.4 195.5v1.5M436.0 178.4h1.5M450.4 195.5v1.5M436.0 177.2h1.5M451.3 195.5v1.5M436.0 176.2h1.5M452.1 195.5v1.5M436.0 169.2h1.5M457.3 195.5v1.5M436.0 165.6h1.5M460.0 195.5v1.5M436.0 163.1h1.5M461.9 195.5v1.5M436.0 161.1h1.5M463.4 195.5v1.5M436.0 159.5h1.5M464.6 195.5v1.5M436.0 158.1h1.5M465.6 195.5v1.5M436.0 157.0h1.5M466.5 195.5v1.5M436.0 155.9h1.5M467.3 195.5v1.5M436.0 148.9h1.5M472.6 195.5v1.5M436.0 145.3h1.5M475.3 195.5v1.5M436.0 142.8h1.5M477.2 195.5v1.5M436.0 140.8h1.5M478.7 195.5v1.5M436.0 139.2h1.5M479.9 195.5v1.5M436.0 137.9h1.5M480.9 195.5v1.5M436.0 136.7h1.5M481.8 195.5v1.5M436.0 135.7h1.5M482.6 195.5v1.5M436.0 128.7h1.5M487.8 195.5v1.5M436.0 125.1h1.5M490.5 195.5v1.5M436.0 122.6h1.5M492.4 195.5v1.5M436.0 120.6h1.5M493.9 195.5v1.5M436.0 119.0h1.5M495.1 195.5v1.5M436.0 117.6h1.5M496.1 195.5v1.5M436.0 116.5h1.5M497.0 195.5v1.5M436.0 115.4h1.5M497.8 195.5v1.5" stroke="#222" stroke-width="0.7" fill="none"/>
<line x1="434.9" y1="195.5" x2="437.5" y2="195.5" stroke="#111" stroke-width="0.9"/>
<line x1="437.5" y1="195.5" x2="437.5" y2="197.9" stroke="#111" stroke-width="0.9"/>
<text class="s" x="426.9" y="198.4" style="font-size:4.4px" fill="#111">10<tspan dx="0.2" dy="-1.9" style="font-size:3.8px">0</tspan></text>
<text class="s" x="436.3" y="203.4" style="font-size:4.4px" fill="#111">10<tspan dx="0.2" dy="-1.9" style="font-size:3.8px">0</tspan></text>
<line x1="434.9" y1="175.25" x2="437.5" y2="175.25" stroke="#111" stroke-width="0.9"/>
<line x1="452.75" y1="195.5" x2="452.75" y2="197.9" stroke="#111" stroke-width="0.9"/>
<text class="s" x="426.9" y="178.2" style="font-size:4.4px" fill="#111">10<tspan dx="0.2" dy="-1.9" style="font-size:3.8px">1</tspan></text>
<text class="s" x="451.6" y="203.4" style="font-size:4.4px" fill="#111">10<tspan dx="0.2" dy="-1.9" style="font-size:3.8px">1</tspan></text>
<line x1="434.9" y1="155.0" x2="437.5" y2="155.0" stroke="#111" stroke-width="0.9"/>
<line x1="468.0" y1="195.5" x2="468.0" y2="197.9" stroke="#111" stroke-width="0.9"/>
<text class="s" x="426.9" y="157.9" style="font-size:4.4px" fill="#111">10<tspan dx="0.2" dy="-1.9" style="font-size:3.8px">2</tspan></text>
<text class="s" x="466.8" y="203.4" style="font-size:4.4px" fill="#111">10<tspan dx="0.2" dy="-1.9" style="font-size:3.8px">2</tspan></text>
<line x1="434.9" y1="134.75" x2="437.5" y2="134.75" stroke="#111" stroke-width="0.9"/>
<line x1="483.25" y1="195.5" x2="483.25" y2="197.9" stroke="#111" stroke-width="0.9"/>
<text class="s" x="426.9" y="137.7" style="font-size:4.4px" fill="#111">10<tspan dx="0.2" dy="-1.9" style="font-size:3.8px">3</tspan></text>
<text class="s" x="482.1" y="203.4" style="font-size:4.4px" fill="#111">10<tspan dx="0.2" dy="-1.9" style="font-size:3.8px">3</tspan></text>
<line x1="434.9" y1="114.5" x2="437.5" y2="114.5" stroke="#111" stroke-width="0.9"/>
<line x1="498.5" y1="195.5" x2="498.5" y2="197.9" stroke="#111" stroke-width="0.9"/>
<text class="s" x="426.9" y="117.4" style="font-size:4.4px" fill="#111">10<tspan dx="0.2" dy="-1.9" style="font-size:3.8px">4</tspan></text>
<text class="s" x="497.3" y="203.4" style="font-size:4.4px" fill="#111">10<tspan dx="0.2" dy="-1.9" style="font-size:3.8px">4</tspan></text>
<text class="s" x="439.0" y="121.1" style="font-size:6.3px;font-weight:bold;" fill="#111">73.3</text>
<text class="s" x="498.1" y="121.1" style="font-size:6.3px;font-weight:bold;" fill="#111" text-anchor="end">26.7</text>
<rect x="359.50" y="213.50" width="62.00" height="74.00" fill="#fff" stroke="#111" stroke-width="1"/>
<line x1="375.5" y1="213.5" x2="375.5" y2="287.5" stroke="#111" stroke-width="1"/>
<line x1="359.5" y1="254.5" x2="421.5" y2="254.5" stroke="#111" stroke-width="1"/>
<path d="M358.0 281.9h1.5M364.2 287.5v1.5M358.0 278.7h1.5M366.9 287.5v1.5M358.0 276.4h1.5M368.8 287.5v1.5M358.0 274.6h1.5M370.3 287.5v1.5M358.0 273.1h1.5M371.6 287.5v1.5M358.0 271.9h1.5M372.6 287.5v1.5M358.0 270.8h1.5M373.5 287.5v1.5M358.0 269.8h1.5M374.3 287.5v1.5M358.0 263.4h1.5M379.7 287.5v1.5M358.0 260.2h1.5M382.4 287.5v1.5M358.0 257.9h1.5M384.3 287.5v1.5M358.0 256.1h1.5M385.8 287.5v1.5M358.0 254.6h1.5M387.1 287.5v1.5M358.0 253.4h1.5M388.1 287.5v1.5M358.0 252.3h1.5M389.0 287.5v1.5M358.0 251.3h1.5M389.8 287.5v1.5M358.0 244.9h1.5M395.2 287.5v1.5M358.0 241.7h1.5M397.9 287.5v1.5M358.0 239.4h1.5M399.8 287.5v1.5M358.0 237.6h1.5M401.3 287.5v1.5M358.0 236.1h1.5M402.6 287.5v1.5M358.0 234.9h1.5M403.6 287.5v1.5M358.0 233.8h1.5M404.5 287.5v1.5M358.0 232.8h1.5M405.3 287.5v1.5M358.0 226.4h1.5M410.7 287.5v1.5M358.0 223.2h1.5M413.4 287.5v1.5M358.0 220.9h1.5M415.3 287.5v1.5M358.0 219.1h1.5M416.8 287.5v1.5M358.0 217.6h1.5M418.1 287.5v1.5M358.0 216.4h1.5M419.1 287.5v1.5M358.0 215.3h1.5M420.0 287.5v1.5M358.0 214.3h1.5M420.8 287.5v1.5" stroke="#222" stroke-width="0.7" fill="none"/>
<line x1="356.9" y1="287.5" x2="359.5" y2="287.5" stroke="#111" stroke-width="0.9"/>
<line x1="359.5" y1="287.5" x2="359.5" y2="289.9" stroke="#111" stroke-width="0.9"/>
<text class="s" x="348.9" y="290.4" style="font-size:4.4px" fill="#111">10<tspan dx="0.2" dy="-1.9" style="font-size:3.8px">0</tspan></text>
<text class="s" x="358.2" y="294.0" style="font-size:4.4px" fill="#111">10<tspan dx="0.2" dy="-1.9" style="font-size:3.8px">0</tspan></text>
<line x1="356.9" y1="269.0" x2="359.5" y2="269.0" stroke="#111" stroke-width="0.9"/>
<line x1="375.0" y1="287.5" x2="375.0" y2="289.9" stroke="#111" stroke-width="0.9"/>
<text class="s" x="348.9" y="271.9" style="font-size:4.4px" fill="#111">10<tspan dx="0.2" dy="-1.9" style="font-size:3.8px">1</tspan></text>
<text class="s" x="373.7" y="294.0" style="font-size:4.4px" fill="#111">10<tspan dx="0.2" dy="-1.9" style="font-size:3.8px">1</tspan></text>
<line x1="356.9" y1="250.5" x2="359.5" y2="250.5" stroke="#111" stroke-width="0.9"/>
<line x1="390.5" y1="287.5" x2="390.5" y2="289.9" stroke="#111" stroke-width="0.9"/>
<text class="s" x="348.9" y="253.4" style="font-size:4.4px" fill="#111">10<tspan dx="0.2" dy="-1.9" style="font-size:3.8px">2</tspan></text>
<text class="s" x="389.2" y="294.0" style="font-size:4.4px" fill="#111">10<tspan dx="0.2" dy="-1.9" style="font-size:3.8px">2</tspan></text>
<line x1="356.9" y1="232.0" x2="359.5" y2="232.0" stroke="#111" stroke-width="0.9"/>
<line x1="406.0" y1="287.5" x2="406.0" y2="289.9" stroke="#111" stroke-width="0.9"/>
<text class="s" x="348.9" y="234.9" style="font-size:4.4px" fill="#111">10<tspan dx="0.2" dy="-1.9" style="font-size:3.8px">3</tspan></text>
<text class="s" x="404.7" y="294.0" style="font-size:4.4px" fill="#111">10<tspan dx="0.2" dy="-1.9" style="font-size:3.8px">3</tspan></text>
<line x1="356.9" y1="213.5" x2="359.5" y2="213.5" stroke="#111" stroke-width="0.9"/>
<line x1="421.5" y1="287.5" x2="421.5" y2="289.9" stroke="#111" stroke-width="0.9"/>
<text class="s" x="348.9" y="216.4" style="font-size:4.4px" fill="#111">10<tspan dx="0.2" dy="-1.9" style="font-size:3.8px">4</tspan></text>
<text class="s" x="420.2" y="294.0" style="font-size:4.4px" fill="#111">10<tspan dx="0.2" dy="-1.9" style="font-size:3.8px">4</tspan></text>
<text class="s" x="360.7" y="219.4" style="font-size:6.3px;font-weight:bold;" fill="#111">99.4</text>
<text class="s" x="420.6" y="219.4" style="font-size:6.3px;font-weight:bold;" fill="#111" text-anchor="end">0.6</text>
<rect x="437.50" y="213.50" width="62.00" height="74.00" fill="#fff" stroke="#111" stroke-width="1"/>
<line x1="453.5" y1="213.5" x2="453.5" y2="287.5" stroke="#111" stroke-width="1"/>
<line x1="437.5" y1="254.5" x2="499.5" y2="254.5" stroke="#111" stroke-width="1"/>
<path d="M436.0 281.9h1.5M442.2 287.5v1.5M436.0 278.7h1.5M444.9 287.5v1.5M436.0 276.4h1.5M446.8 287.5v1.5M436.0 274.6h1.5M448.3 287.5v1.5M436.0 273.1h1.5M449.6 287.5v1.5M436.0 271.9h1.5M450.6 287.5v1.5M436.0 270.8h1.5M451.5 287.5v1.5M436.0 269.8h1.5M452.3 287.5v1.5M436.0 263.4h1.5M457.7 287.5v1.5M436.0 260.2h1.5M460.4 287.5v1.5M436.0 257.9h1.5M462.3 287.5v1.5M436.0 256.1h1.5M463.8 287.5v1.5M436.0 254.6h1.5M465.1 287.5v1.5M436.0 253.4h1.5M466.1 287.5v1.5M436.0 252.3h1.5M467.0 287.5v1.5M436.0 251.3h1.5M467.8 287.5v1.5M436.0 244.9h1.5M473.2 287.5v1.5M436.0 241.7h1.5M475.9 287.5v1.5M436.0 239.4h1.5M477.8 287.5v1.5M436.0 237.6h1.5M479.3 287.5v1.5M436.0 236.1h1.5M480.6 287.5v1.5M436.0 234.9h1.5M481.6 287.5v1.5M436.0 233.8h1.5M482.5 287.5v1.5M436.0 232.8h1.5M483.3 287.5v1.5M436.0 226.4h1.5M488.7 287.5v1.5M436.0 223.2h1.5M491.4 287.5v1.5M436.0 220.9h1.5M493.3 287.5v1.5M436.0 219.1h1.5M494.8 287.5v1.5M436.0 217.6h1.5M496.1 287.5v1.5M436.0 216.4h1.5M497.1 287.5v1.5M436.0 215.3h1.5M498.0 287.5v1.5M436.0 214.3h1.5M498.8 287.5v1.5" stroke="#222" stroke-width="0.7" fill="none"/>
<line x1="434.9" y1="287.5" x2="437.5" y2="287.5" stroke="#111" stroke-width="0.9"/>
<line x1="437.5" y1="287.5" x2="437.5" y2="289.9" stroke="#111" stroke-width="0.9"/>
<text class="s" x="426.9" y="290.4" style="font-size:4.4px" fill="#111">10<tspan dx="0.2" dy="-1.9" style="font-size:3.8px">0</tspan></text>
<text class="s" x="436.2" y="294.0" style="font-size:4.4px" fill="#111">10<tspan dx="0.2" dy="-1.9" style="font-size:3.8px">0</tspan></text>
<line x1="434.9" y1="269.0" x2="437.5" y2="269.0" stroke="#111" stroke-width="0.9"/>
<line x1="453.0" y1="287.5" x2="453.0" y2="289.9" stroke="#111" stroke-width="0.9"/>
<text class="s" x="426.9" y="271.9" style="font-size:4.4px" fill="#111">10<tspan dx="0.2" dy="-1.9" style="font-size:3.8px">1</tspan></text>
<text class="s" x="451.7" y="294.0" style="font-size:4.4px" fill="#111">10<tspan dx="0.2" dy="-1.9" style="font-size:3.8px">1</tspan></text>
<line x1="434.9" y1="250.5" x2="437.5" y2="250.5" stroke="#111" stroke-width="0.9"/>
<line x1="468.5" y1="287.5" x2="468.5" y2="289.9" stroke="#111" stroke-width="0.9"/>
<text class="s" x="426.9" y="253.4" style="font-size:4.4px" fill="#111">10<tspan dx="0.2" dy="-1.9" style="font-size:3.8px">2</tspan></text>
<text class="s" x="467.2" y="294.0" style="font-size:4.4px" fill="#111">10<tspan dx="0.2" dy="-1.9" style="font-size:3.8px">2</tspan></text>
<line x1="434.9" y1="232.0" x2="437.5" y2="232.0" stroke="#111" stroke-width="0.9"/>
<line x1="484.0" y1="287.5" x2="484.0" y2="289.9" stroke="#111" stroke-width="0.9"/>
<text class="s" x="426.9" y="234.9" style="font-size:4.4px" fill="#111">10<tspan dx="0.2" dy="-1.9" style="font-size:3.8px">3</tspan></text>
<text class="s" x="482.7" y="294.0" style="font-size:4.4px" fill="#111">10<tspan dx="0.2" dy="-1.9" style="font-size:3.8px">3</tspan></text>
<line x1="434.9" y1="213.5" x2="437.5" y2="213.5" stroke="#111" stroke-width="0.9"/>
<line x1="499.5" y1="287.5" x2="499.5" y2="289.9" stroke="#111" stroke-width="0.9"/>
<text class="s" x="426.9" y="216.4" style="font-size:4.4px" fill="#111">10<tspan dx="0.2" dy="-1.9" style="font-size:3.8px">4</tspan></text>
<text class="s" x="498.2" y="294.0" style="font-size:4.4px" fill="#111">10<tspan dx="0.2" dy="-1.9" style="font-size:3.8px">4</tspan></text>
<text class="s" x="438.5" y="219.4" style="font-size:6.3px;font-weight:bold;" fill="#111">84.7</text>
<text class="s" x="499.3" y="219.4" style="font-size:6.3px;font-weight:bold;" fill="#111" text-anchor="end">15.3</text>
<g filter="url(#bl)">
<path d="M371.6 47.3h1.0M372.2 45.5h1.0M371.1 45.4h1.0M373.6 47.7h1.0M373.6 47.3h1.0M372.7 46.9h1.0M369.3 47.4h1.0M372.7 47.6h1.0M371.1 41.7h1.0M371.3 44.9h1.0M372.8 46.3h1.0M373.5 45.1h1.0M372.5 47.3h1.0M370.2 49.8h1.0M372.3 49.2h1.0M371.9 44.4h1.0M371.9 45.9h1.0M373.0 47.1h1.0M372.3 44.0h1.0M370.7 48.8h1.0M371.0 46.5h1.0M373.9 43.2h1.0M371.5 49.2h1.0M369.6 44.7h1.0M372.7 44.5h1.0M373.1 46.4h1.0M369.6 47.5h1.0M372.6 48.7h1.0M374.1 47.7h1.0M373.4 43.5h1.0M373.6 45.2h1.0M372.5 43.3h1.0M371.3 44.7h1.0M375.5 42.4h1.0M370.0 46.2h1.0M374.0 48.2h1.0M371.3 39.9h1.0M373.3 44.8h1.0M370.0 48.0h1.0M373.8 47.1h1.0M372.4 47.4h1.0M374.2 48.4h1.0M372.7 47.7h1.0M369.2 48.4h1.0M373.3 47.9h1.0M369.9 44.0h1.0M374.7 42.7h1.0M371.3 48.5h1.0M369.3 49.3h1.0M373.2 46.2h1.0M372.3 47.9h1.0M371.7 48.9h1.0M371.6 45.1h1.0M373.8 46.8h1.0M370.4 48.0h1.0M374.7 46.0h1.0M370.4 45.4h1.0M372.3 45.6h1.0M375.0 44.7h1.0M375.0 44.1h1.0M370.7 47.3h1.0M373.3 48.7h1.0M372.7 46.8h1.0M372.1 47.6h1.0M371.9 46.8h1.0M373.1 46.6h1.0M373.0 47.9h1.0M375.0 47.9h1.0M371.9 45.3h1.0M371.7 48.3h1.0M371.6 47.0h1.0M376.7 41.5h1.0M370.5 46.3h1.0M372.7 47.0h1.0M371.2 47.5h1.0M373.1 45.3h1.0M375.5 48.2h1.0M371.6 45.8h1.0M372.0 46.1h1.0M368.7 44.0h1.0M374.5 44.2h1.0M371.6 48.4h1.0M372.5 50.0h1.0M370.1 44.8h1.0M371.4 47.5h1.0M375.7 40.9h1.0M374.8 43.6h1.0M374.3 43.3h1.0M371.7 49.0h1.0M372.0 46.7h1.0M373.3 47.0h1.0M371.1 49.6h1.0M374.0 46.1h1.0M377.0 45.0h1.0M373.8 46.1h1.0M372.0 47.9h1.0M372.2 47.8h1.0M371.1 42.3h1.0M373.8 44.5h1.0M371.8 42.6h1.0M373.6 48.5h1.0M375.0 44.9h1.0M373.1 43.8h1.0M372.3 50.1h1.0M370.0 49.3h1.0M373.8 46.3h1.0M368.5 48.5h1.0M372.6 44.9h1.0M372.6 47.4h1.0M375.1 44.7h1.0M372.9 50.1h1.0M374.5 46.5h1.0M370.5 48.2h1.0M372.4 46.6h1.0M374.5 46.4h1.0M369.3 44.4h1.0M369.1 47.3h1.0M373.2 45.1h1.0M371.7 48.1h1.0M371.5 49.2h1.0M371.5 48.6h1.0M373.3 50.5h1.0M370.7 47.9h1.0M370.3 43.1h1.0M368.8 47.8h1.0M370.5 45.7h1.0M372.0 46.2h1.0M371.3 46.6h1.0M374.8 47.2h1.0M372.4 48.7h1.0M372.9 43.4h1.0M370.8 48.4h1.0M370.3 44.3h1.0M373.2 48.5h1.0M371.8 48.1h1.0M373.3 43.8h1.0M370.5 44.2h1.0M374.0 45.5h1.0M371.5 44.2h1.0M370.2 45.4h1.0M370.4 46.6h1.0M368.7 46.0h1.0M372.7 41.7h1.0M373.5 46.0h1.0M369.7 43.4h1.0M373.0 45.4h1.0M372.9 48.3h1.0M373.0 47.3h1.0M373.8 48.3h1.0M374.4 41.9h1.0M372.7 49.6h1.0M372.2 45.1h1.0M376.3 43.3h1.0M371.3 51.8h1.0M370.5 47.4h1.0M375.1 46.9h1.0M372.5 48.5h1.0M371.1 45.7h1.0M372.2 48.2h1.0M372.4 45.9h1.0M371.1 45.1h1.0M373.5 46.9h1.0M371.6 44.1h1.0M375.3 50.0h1.0M375.0 40.9h1.0M372.9 47.6h1.0M374.4 48.0h1.0M371.8 47.4h1.0M368.8 47.7h1.0M373.2 44.9h1.0M373.0 50.9h1.0M370.7 44.2h1.0M372.6 46.8h1.0M372.4 44.0h1.0M374.6 49.5h1.0M371.5 42.8h1.0M374.1 49.2h1.0M374.4 48.9h1.0M370.9 46.5h1.0M369.7 43.7h1.0M371.9 47.4h1.0M371.3 45.7h1.0M372.7 47.3h1.0M373.1 47.0h1.0M371.3 47.9h1.0M372.9 44.5h1.0M371.4 46.0h1.0M372.0 46.6h1.0M372.2 46.7h1.0M373.0 43.5h1.0M372.2 48.8h1.0M373.1 46.1h1.0M373.6 44.4h1.0M369.5 45.6h1.0M370.5 47.5h1.0M372.5 40.0h1.0M369.7 49.3h1.0M372.7 43.1h1.0M370.9 47.1h1.0M372.9 46.9h1.0M373.9 48.5h1.0M371.9 47.6h1.0M374.0 49.2h1.0M374.5 44.4h1.0M371.6 47.8h1.0M371.1 48.5h1.0M372.5 48.6h1.0M370.3 51.8h1.0M374.2 46.4h1.0M370.7 52.0h1.0M371.2 48.1h1.0M373.7 46.7h1.0M370.5 46.2h1.0M372.0 48.9h1.0M373.4 46.7h1.0M373.2 47.9h1.0M372.6 46.5h1.0M371.5 47.7h1.0M371.2 44.5h1.0M373.3 43.1h1.0M373.0 41.7h1.0M370.9 47.2h1.0M373.1 46.4h1.0M372.9 43.1h1.0M374.6 48.2h1.0M374.5 44.8h1.0M373.3 42.2h1.0M372.8 48.7h1.0M369.6 45.3h1.0M374.4 42.7h1.0M370.4 43.2h1.0M372.4 42.9h1.0M372.2 46.9h1.0M372.7 48.1h1.0M373.7 49.5h1.0M370.8 44.6h1.0M371.5 43.5h1.0M372.2 46.3h1.0M374.1 43.0h1.0M370.5 45.7h1.0M372.2 45.5h1.0M372.7 44.6h1.0M373.1 47.4h1.0M372.6 44.8h1.0M373.9 40.2h1.0M370.9 45.9h1.0M370.0 46.1h1.0M373.4 43.3h1.0M372.2 45.5h1.0M372.5 47.8h1.0M372.8 44.4h1.0M372.1 46.1h1.0M373.2 47.3h1.0M372.2 43.0h1.0M372.3 44.5h1.0M370.8 45.6h1.0M371.5 46.3h1.0M373.3 45.6h1.0M375.8 46.6h1.0M373.8 47.1h1.0M375.5 41.6h1.0M371.1 46.5h1.0M371.6 51.7h1.0M371.9 49.3h1.0M372.8 48.7h1.0M373.1 46.2h1.0M373.8 44.2h1.0M374.7 44.6h1.0M371.2 51.1h1.0M372.0 46.2h1.0M373.9 46.9h1.0M371.0 46.5h1.0M372.7 48.1h1.0M370.0 49.8h1.0M374.7 47.1h1.0M373.0 45.5h1.0M374.8 45.4h1.0M373.6 45.5h1.0M370.8 47.6h1.0M374.2 46.9h1.0M370.8 47.8h1.0M372.0 47.0h1.0M373.7 49.5h1.0M370.0 51.1h1.0M371.8 48.0h1.0M371.4 45.9h1.0M368.6 49.5h1.0M375.1 44.2h1.0M371.2 42.1h1.0M374.3 45.8h1.0M372.4 45.6h1.0M372.9 43.9h1.0M373.3 43.2h1.0M372.0 46.9h1.0M373.1 46.0h1.0M370.9 46.3h1.0M370.5 49.5h1.0M373.5 46.4h1.0M372.1 44.5h1.0M371.2 45.1h1.0M372.4 47.6h1.0M371.7 51.2h1.0M371.3 46.0h1.0M377.6 43.4h1.0M371.4 46.4h1.0M372.2 47.3h1.0M371.7 47.0h1.0M371.9 48.0h1.0M370.2 43.5h1.0M373.0 44.0h1.0M370.4 47.2h1.0M370.9 47.4h1.0M373.2 47.3h1.0M373.1 46.3h1.0M370.3 45.6h1.0M373.3 45.3h1.0M371.6 47.9h1.0M370.6 47.3h1.0M375.3 45.9h1.0M372.6 46.0h1.0M374.3 47.7h1.0M374.1 45.2h1.0M372.3 46.3h1.0M368.8 48.7h1.0M374.8 42.9h1.0M373.5 46.3h1.0M372.7 47.3h1.0M370.3 45.2h1.0M374.8 45.7h1.0M371.8 42.9h1.0M370.3 46.5h1.0M374.4 48.0h1.0M371.1 51.3h1.0M372.0 44.6h1.0M372.7 47.7h1.0M371.6 43.3h1.0M372.5 47.0h1.0M370.6 45.3h1.0M371.2 47.1h1.0M372.2 46.1h1.0M371.1 48.5h1.0M374.5 46.1h1.0M374.0 45.0h1.0M371.9 48.0h1.0M374.7 46.1h1.0M372.1 46.7h1.0M370.1 45.7h1.0M371.1 46.8h1.0M372.0 41.5h1.0M372.2 46.9h1.0M370.9 48.0h1.0M372.3 44.8h1.0M374.1 43.1h1.0M371.3 46.0h1.0M373.6 46.3h1.0M373.2 45.0h1.0M371.6 50.1h1.0M369.7 51.2h1.0M371.4 46.1h1.0M371.9 48.6h1.0M372.0 41.1h1.0M372.6 48.3h1.0M371.4 52.4h1.0M372.4 46.9h1.0M373.4 47.5h1.0M375.5 44.3h1.0M374.1 38.6h1.0M373.7 45.8h1.0M372.2 51.4h1.0M372.5 45.7h1.0M372.2 44.2h1.0M371.0 47.4h1.0M372.3 46.5h1.0M371.4 48.2h1.0M373.1 46.2h1.0M373.4 46.3h1.0M369.7 49.0h1.0M373.6 44.4h1.0M373.6 47.5h1.0M369.0 49.1h1.0M372.2 48.4h1.0M372.7 46.1h1.0M369.4 47.7h1.0M372.5 45.7h1.0M372.7 46.6h1.0M373.5 45.8h1.0M373.7 41.6h1.0M371.2 47.6h1.0M374.5 46.1h1.0M371.0 49.7h1.0M371.3 47.8h1.0M374.7 47.1h1.0M374.5 45.3h1.0M372.7 46.2h1.0M371.7 48.8h1.0M376.2 45.9h1.0M371.1 47.1h1.0M370.5 46.9h1.0M373.3 45.9h1.0M374.1 43.1h1.0M374.4 43.2h1.0M371.7 44.8h1.0M371.1 48.0h1.0M372.7 45.5h1.0M372.0 50.0h1.0M372.1 47.1h1.0M373.9 47.4h1.0M368.8 51.2h1.0M376.8 42.9h1.0M372.0 47.2h1.0M373.2 48.2h1.0M372.6 43.9h1.0M371.7 48.6h1.0M371.4 43.6h1.0M373.6 42.0h1.0M372.2 45.2h1.0M373.4 45.0h1.0M371.3 45.0h1.0M372.7 44.8h1.0M371.8 48.0h1.0" stroke="#111" stroke-width="1.0" stroke-opacity="1.0" fill="none"/>
<path d="M373.1 52.3h0.8M371.1 44.5h0.8M365.3 50.5h0.8M370.8 45.7h0.8M374.7 42.5h0.8M373.3 46.5h0.8M368.2 46.0h0.8M376.6 41.3h0.8M373.8 47.5h0.8M372.9 48.0h0.8M375.2 46.5h0.8M374.5 45.6h0.8M374.6 44.3h0.8M370.4 51.6h0.8M373.4 46.1h0.8M370.7 43.1h0.8M371.8 49.3h0.8M372.7 48.2h0.8M370.9 50.4h0.8M372.0 44.4h0.8M374.1 47.1h0.8M372.3 44.3h0.8M371.2 48.1h0.8M374.2 42.8h0.8M373.0 47.1h0.8M369.5 48.0h0.8M372.0 45.1h0.8M372.7 50.9h0.8M370.5 47.2h0.8M368.3 52.9h0.8M370.1 49.7h0.8M370.2 48.4h0.8M379.3 39.9h0.8M370.9 47.6h0.8M372.7 44.2h0.8M376.7 47.9h0.8M368.1 47.9h0.8M367.6 48.7h0.8M371.0 46.4h0.8M374.8 47.5h0.8M371.0 40.2h0.8M374.1 49.3h0.8M369.8 48.4h0.8M372.7 48.6h0.8M367.9 43.9h0.8M373.5 49.1h0.8M376.5 39.3h0.8M372.2 47.9h0.8M378.5 45.0h0.8M371.6 46.2h0.8M374.6 45.5h0.8M375.4 44.6h0.8M373.4 44.8h0.8M373.3 44.3h0.8M367.9 48.6h0.8M373.5 44.8h0.8M371.8 49.5h0.8M370.4 45.3h0.8M372.9 48.3h0.8M373.6 39.6h0.8M374.6 48.1h0.8M372.6 45.5h0.8M373.3 45.2h0.8M370.9 43.4h0.8M371.6 44.0h0.8M369.3 47.5h0.8M369.0 47.5h0.8M369.9 46.7h0.8M375.0 47.8h0.8M370.7 46.0h0.8M374.3 41.1h0.8M370.9 46.4h0.8M371.2 46.2h0.8M373.1 49.1h0.8M373.6 48.7h0.8M371.7 46.1h0.8M372.0 45.2h0.8M373.6 40.9h0.8M371.6 46.0h0.8M370.3 45.6h0.8M373.5 46.1h0.8M379.1 39.6h0.8M373.6 40.6h0.8M371.8 55.1h0.8M367.0 45.1h0.8M373.7 45.7h0.8M375.6 39.8h0.8M373.7 48.0h0.8M372.9 44.5h0.8M374.1 45.2h0.8M373.2 44.9h0.8M367.7 44.8h0.8M372.0 48.8h0.8M370.5 45.6h0.8M373.4 47.1h0.8M373.0 53.2h0.8M372.2 39.8h0.8M372.6 51.6h0.8M373.4 49.4h0.8M371.7 43.7h0.8M375.0 44.1h0.8M369.5 42.1h0.8M375.6 53.8h0.8M371.6 43.6h0.8M373.5 44.1h0.8M375.1 46.9h0.8M368.8 49.6h0.8M370.9 46.6h0.8M372.6 45.3h0.8M373.6 44.4h0.8M370.6 38.3h0.8M370.4 43.2h0.8M372.2 46.5h0.8M373.3 47.0h0.8M371.3 43.6h0.8M368.1 44.4h0.8M372.8 48.2h0.8M372.2 45.7h0.8M374.2 46.9h0.8M373.3 48.6h0.8M371.5 50.5h0.8M371.5 44.8h0.8M371.4 43.3h0.8M373.9 52.7h0.8M371.8 48.1h0.8M374.0 49.5h0.8M376.0 43.2h0.8M370.5 47.3h0.8M375.2 47.5h0.8M370.9 44.7h0.8M371.7 43.2h0.8M376.0 45.3h0.8M370.3 53.0h0.8M374.4 48.1h0.8M370.6 47.2h0.8M375.1 49.3h0.8M374.8 47.4h0.8M373.6 46.0h0.8M371.9 50.6h0.8M369.4 45.2h0.8M373.3 44.7h0.8M370.9 48.5h0.8M375.9 49.5h0.8M374.5 41.7h0.8M376.2 47.8h0.8M373.3 42.8h0.8M373.2 42.9h0.8" stroke="#333" stroke-width="0.8" stroke-opacity="0.75" fill="none"/>
<path d="M371.9 48.3h0.7M372.0 47.5h0.7M368.0 51.5h0.7M372.8 38.1h0.7M372.7 42.9h0.7M369.9 43.9h0.7M374.7 41.6h0.7M370.1 52.1h0.7M374.5 46.3h0.7M372.8 45.9h0.7M371.2 49.3h0.7M375.1 36.2h0.7M373.4 42.6h0.7M375.0 44.3h0.7M369.9 55.5h0.7M370.8 40.7h0.7M371.3 35.1h0.7M366.4 46.2h0.7M372.9 37.9h0.7M367.3 47.6h0.7M370.6 44.1h0.7M371.5 52.3h0.7M376.5 52.3h0.7M372.5 47.2h0.7M375.6 53.9h0.7M370.8 47.9h0.7M373.1 46.8h0.7M372.6 40.3h0.7M372.8 39.4h0.7M375.1 49.6h0.7M367.0 51.1h0.7M377.3 39.1h0.7M376.5 51.3h0.7" stroke="#666" stroke-width="0.7" stroke-opacity="0.6" fill="none"/>
<path d="M391.1 46.8h0.8M388.1 50.4h0.8M387.4 49.9h0.8M389.1 46.2h0.8M384.5 46.4h0.8M385.9 48.2h0.8M387.7 50.1h0.8M387.1 48.0h0.8M386.1 51.6h0.8M388.5 49.7h0.8M386.4 52.9h0.8M385.8 50.9h0.8M389.3 48.9h0.8M388.7 47.0h0.8M389.0 49.9h0.8M383.8 51.0h0.8M385.2 52.3h0.8M385.6 49.1h0.8" stroke="#bbb" stroke-width="0.8" stroke-opacity="1.0" fill="none"/>
<path d="M450.9 40.4h1.0M451.0 40.0h1.0M451.3 41.1h1.0M451.5 35.9h1.0M451.9 41.3h1.0M448.3 40.8h1.0M450.8 43.1h1.0M448.7 43.7h1.0M449.6 45.5h1.0M450.1 42.2h1.0M450.4 38.8h1.0M451.6 42.9h1.0M452.2 42.9h1.0M450.3 37.8h1.0M449.9 39.6h1.0M449.3 41.9h1.0M451.0 40.6h1.0M450.8 40.8h1.0M450.5 42.5h1.0M451.9 39.9h1.0M448.2 43.4h1.0M450.3 43.1h1.0M448.6 40.1h1.0M450.9 38.3h1.0M449.7 42.3h1.0M451.4 44.2h1.0M449.8 38.2h1.0M450.9 42.9h1.0M451.1 38.6h1.0M451.2 42.6h1.0M451.3 40.2h1.0M450.7 42.5h1.0M450.3 37.4h1.0M450.8 42.0h1.0M450.3 42.7h1.0M449.8 40.7h1.0M450.0 42.0h1.0M452.5 40.8h1.0M452.6 44.3h1.0M451.3 42.3h1.0M452.7 41.0h1.0M450.7 39.0h1.0M450.7 43.6h1.0M451.0 41.9h1.0M450.2 41.3h1.0M448.4 42.7h1.0M450.3 38.8h1.0M449.8 39.3h1.0M451.3 43.1h1.0M448.6 42.5h1.0M451.8 40.1h1.0M448.9 39.3h1.0M449.6 41.5h1.0M450.6 37.1h1.0M451.2 38.2h1.0M452.0 38.9h1.0M449.9 39.3h1.0M449.5 43.3h1.0M451.4 42.3h1.0M451.3 38.2h1.0M450.0 39.9h1.0M449.1 41.8h1.0M449.8 39.5h1.0M449.8 36.9h1.0M450.9 43.6h1.0M451.0 39.2h1.0M447.1 40.8h1.0M451.9 41.8h1.0M451.2 44.0h1.0M452.0 40.4h1.0M451.6 42.7h1.0M448.7 40.0h1.0M448.8 40.5h1.0M451.5 39.1h1.0M447.6 43.1h1.0M450.5 43.8h1.0M448.6 42.7h1.0M452.5 45.2h1.0M450.2 41.5h1.0M450.0 42.8h1.0M451.8 41.4h1.0M448.6 42.1h1.0M449.7 42.1h1.0M450.4 44.1h1.0M452.0 40.4h1.0M450.4 44.4h1.0M449.7 41.7h1.0M451.6 43.6h1.0M451.5 38.6h1.0M448.9 41.2h1.0M450.3 45.9h1.0M449.1 43.0h1.0M451.9 38.0h1.0M449.4 41.2h1.0M449.9 40.6h1.0M451.3 39.6h1.0M451.3 39.9h1.0M449.7 41.9h1.0M449.7 41.4h1.0M452.5 41.3h1.0M450.1 42.4h1.0M449.7 43.0h1.0M448.7 41.9h1.0M450.1 39.4h1.0M452.9 39.7h1.0M452.5 42.6h1.0M452.6 39.4h1.0M451.6 44.0h1.0M450.4 40.7h1.0M453.5 41.8h1.0M450.2 39.7h1.0M451.0 41.7h1.0M450.2 44.3h1.0M450.0 41.8h1.0M452.6 39.4h1.0M451.3 44.6h1.0M449.1 38.7h1.0M449.7 37.3h1.0M451.6 37.6h1.0M450.7 43.8h1.0M448.6 40.1h1.0M447.9 42.1h1.0M449.7 40.4h1.0M450.4 42.0h1.0M450.1 41.0h1.0M449.8 41.1h1.0M449.0 40.9h1.0M448.3 39.7h1.0M452.8 41.5h1.0M448.9 41.2h1.0M449.8 37.7h1.0M449.4 42.2h1.0M451.0 40.9h1.0M449.7 38.8h1.0M452.1 41.7h1.0M449.9 36.9h1.0M448.1 45.4h1.0M449.1 40.6h1.0M450.8 40.7h1.0M450.5 38.4h1.0M448.7 44.0h1.0M449.3 42.4h1.0M448.5 40.2h1.0M450.5 43.0h1.0M448.9 41.9h1.0M451.2 39.7h1.0M451.3 39.4h1.0M449.5 40.8h1.0M447.2 40.3h1.0M449.7 38.1h1.0M449.8 42.4h1.0M449.6 43.3h1.0M449.4 38.3h1.0M452.3 42.0h1.0M451.9 39.6h1.0M451.4 41.6h1.0M451.3 41.2h1.0M452.2 40.0h1.0M449.7 38.0h1.0M452.1 39.8h1.0M449.5 39.0h1.0M450.3 38.5h1.0M450.3 39.8h1.0M450.1 39.1h1.0M450.7 40.1h1.0M450.6 41.5h1.0M451.5 37.0h1.0M450.1 39.4h1.0M451.9 38.2h1.0M449.7 40.3h1.0M449.8 42.8h1.0M449.7 42.7h1.0M449.2 37.3h1.0M451.9 42.0h1.0M451.1 41.3h1.0M451.4 38.8h1.0M451.8 40.2h1.0M451.7 41.3h1.0M448.4 38.2h1.0M451.9 41.0h1.0M449.9 41.4h1.0M450.1 39.9h1.0M450.6 41.3h1.0M452.4 41.4h1.0M452.3 44.7h1.0M452.3 43.3h1.0M450.6 41.3h1.0M450.5 39.6h1.0M450.6 39.8h1.0M452.4 42.3h1.0M450.5 37.3h1.0M450.6 40.2h1.0M449.5 38.7h1.0M447.6 41.6h1.0M449.7 45.8h1.0M450.5 40.7h1.0M452.2 41.5h1.0M450.8 40.3h1.0M449.3 43.7h1.0M451.2 44.4h1.0" stroke="#111" stroke-width="1.0" stroke-opacity="0.9" fill="none"/>
<path d="M449.9 41.0h0.8M448.5 43.3h0.8M447.8 42.1h0.8M451.9 45.0h0.8M448.4 43.6h0.8M449.5 38.8h0.8M447.7 43.7h0.8M453.7 39.9h0.8M449.3 39.9h0.8M454.6 44.3h0.8M450.2 36.1h0.8M448.8 43.9h0.8M454.0 40.8h0.8M449.5 39.5h0.8M446.8 42.9h0.8M448.1 43.5h0.8M447.9 37.2h0.8M451.3 39.1h0.8M451.9 41.2h0.8M448.1 42.3h0.8M452.8 36.2h0.8M453.6 42.8h0.8M452.6 36.3h0.8M449.3 39.9h0.8M453.0 37.5h0.8M449.7 35.4h0.8M449.9 41.8h0.8M447.7 39.0h0.8M450.8 45.3h0.8M451.8 40.4h0.8M448.8 38.2h0.8M449.3 41.2h0.8M449.7 45.4h0.8M451.4 38.3h0.8M452.9 43.9h0.8M451.0 39.1h0.8M447.6 37.8h0.8M452.5 39.1h0.8M448.1 41.2h0.8M450.7 42.7h0.8M451.1 44.9h0.8M448.6 43.3h0.8M448.5 42.6h0.8M450.7 41.7h0.8M452.2 41.2h0.8M452.1 43.6h0.8M451.0 39.5h0.8M449.4 39.4h0.8M450.1 40.9h0.8M455.6 43.5h0.8M452.2 38.9h0.8M449.4 40.0h0.8M451.3 38.3h0.8M453.6 40.0h0.8M453.4 35.1h0.8M450.4 41.7h0.8M450.6 42.6h0.8M450.9 41.5h0.8M447.4 38.6h0.8M446.1 42.0h0.8M451.1 40.6h0.8M449.3 39.2h0.8M453.1 46.1h0.8M449.9 44.4h0.8M448.4 35.5h0.8M450.0 38.6h0.8M449.4 41.3h0.8M456.2 40.1h0.8M450.5 41.7h0.8M450.1 43.4h0.8" stroke="#333" stroke-width="0.8" stroke-opacity="0.675" fill="none"/>
<path d="M455.6 37.2h0.7M451.0 40.1h0.7M452.2 35.7h0.7M447.4 32.1h0.7M451.7 41.9h0.7M452.0 32.6h0.7M450.0 38.2h0.7M447.5 37.2h0.7M451.9 43.2h0.7M450.2 42.8h0.7M449.0 41.0h0.7M450.3 43.0h0.7M450.4 40.5h0.7M450.5 38.6h0.7M455.7 43.7h0.7M450.3 49.3h0.7" stroke="#666" stroke-width="0.7" stroke-opacity="0.54" fill="none"/>
<path d="M466.1 40.0h1.0M465.1 43.8h1.0M466.7 44.6h1.0M465.2 40.6h1.0M463.0 42.9h1.0M464.9 40.9h1.0M463.7 41.9h1.0M464.3 43.0h1.0M463.8 40.5h1.0M465.9 45.1h1.0M464.1 44.1h1.0M464.8 43.6h1.0M464.8 41.3h1.0M465.0 44.1h1.0M463.0 45.6h1.0M467.0 45.4h1.0M466.9 43.7h1.0M463.7 41.5h1.0M463.1 42.7h1.0M464.2 43.6h1.0M461.5 46.2h1.0M467.3 42.5h1.0M465.1 43.3h1.0M464.6 42.2h1.0M464.0 41.2h1.0M464.4 42.5h1.0M464.6 41.1h1.0M464.3 42.6h1.0M465.0 40.8h1.0M464.8 44.1h1.0M465.0 41.9h1.0M463.5 42.1h1.0M465.2 45.0h1.0M464.0 41.5h1.0M464.7 42.8h1.0M463.0 41.3h1.0M464.1 43.6h1.0M462.6 40.9h1.0M464.9 40.5h1.0M464.3 43.1h1.0M464.1 40.9h1.0M464.1 42.0h1.0M464.7 41.2h1.0M465.7 39.8h1.0M464.0 42.5h1.0M465.5 41.5h1.0M464.9 41.6h1.0M465.2 45.3h1.0M463.7 43.2h1.0M462.9 44.1h1.0M465.8 42.6h1.0M462.7 43.1h1.0M465.8 44.2h1.0M465.3 39.6h1.0M463.3 44.8h1.0M462.5 44.3h1.0M466.7 43.7h1.0M465.7 42.0h1.0M462.5 42.3h1.0M463.9 42.4h1.0M465.1 42.3h1.0M464.5 43.2h1.0M464.2 45.4h1.0M464.8 42.6h1.0M463.9 41.5h1.0M466.0 42.7h1.0M462.7 41.6h1.0M464.0 41.8h1.0M465.7 40.6h1.0M464.9 42.7h1.0M462.6 42.6h1.0M464.1 43.3h1.0M463.6 43.0h1.0M462.0 40.8h1.0M465.3 44.2h1.0M464.2 41.5h1.0M465.7 39.2h1.0M463.1 43.6h1.0M465.1 40.8h1.0M461.7 44.8h1.0M464.4 41.1h1.0M464.3 43.9h1.0M460.7 44.3h1.0M465.2 39.2h1.0M465.2 39.7h1.0M465.7 43.1h1.0M467.2 41.5h1.0M464.2 44.2h1.0M463.3 41.4h1.0M463.7 42.4h1.0M462.7 43.3h1.0M464.9 42.6h1.0M466.5 42.0h1.0M466.0 41.6h1.0M465.2 39.4h1.0M464.5 42.2h1.0M463.5 41.5h1.0M463.7 41.3h1.0M461.2 41.5h1.0M463.5 41.7h1.0M462.8 42.3h1.0M465.3 42.1h1.0M463.5 44.7h1.0M465.5 44.0h1.0M465.8 42.0h1.0M464.0 44.3h1.0M463.5 42.3h1.0M464.7 43.1h1.0M463.8 44.1h1.0M464.0 43.7h1.0M465.6 43.6h1.0M465.2 40.6h1.0M462.4 41.5h1.0M464.8 44.9h1.0M462.5 43.0h1.0M463.0 41.3h1.0M463.8 43.6h1.0M464.5 44.4h1.0M462.9 43.9h1.0M465.5 42.6h1.0M464.8 41.6h1.0M462.7 41.9h1.0M463.3 47.1h1.0M463.5 45.1h1.0M464.5 43.0h1.0M465.2 41.3h1.0M465.4 43.1h1.0M462.2 43.5h1.0M464.9 43.2h1.0M466.3 41.8h1.0M464.9 43.7h1.0M463.0 44.4h1.0M462.2 40.4h1.0M464.9 40.8h1.0M464.0 39.9h1.0M464.3 40.7h1.0M464.7 40.0h1.0M464.8 42.1h1.0M464.3 42.4h1.0M464.4 40.4h1.0M460.7 42.6h1.0M462.9 41.8h1.0M464.8 39.3h1.0M463.2 41.5h1.0M462.8 43.0h1.0M464.0 41.2h1.0M462.9 43.8h1.0M463.3 43.4h1.0M464.8 39.5h1.0M462.7 42.5h1.0M464.7 43.7h1.0M465.3 44.2h1.0M463.7 42.2h1.0M465.2 41.8h1.0M465.6 40.0h1.0M465.1 42.2h1.0M461.5 44.1h1.0M464.6 42.5h1.0M462.7 41.8h1.0M466.2 41.2h1.0" stroke="#111" stroke-width="1.0" stroke-opacity="0.85" fill="none"/>
<path d="M457.4 40.6h0.8M461.9 42.2h0.8M463.4 40.5h0.8M462.6 44.8h0.8M461.4 46.9h0.8M463.1 40.1h0.8M465.7 43.8h0.8M462.2 44.2h0.8M460.6 40.4h0.8M466.4 41.9h0.8M461.7 43.7h0.8M466.0 42.4h0.8M460.7 41.7h0.8M465.0 44.2h0.8M467.8 41.9h0.8M463.3 42.4h0.8M466.6 40.4h0.8M466.8 36.3h0.8M465.8 41.0h0.8M465.1 44.0h0.8M461.9 42.3h0.8M464.7 43.8h0.8M462.4 40.3h0.8M460.4 48.2h0.8M463.8 42.0h0.8M461.3 44.6h0.8M463.2 45.7h0.8M465.9 42.5h0.8M465.6 40.0h0.8M463.6 41.2h0.8M461.7 42.5h0.8M463.9 45.7h0.8M457.6 41.0h0.8M462.4 41.5h0.8M465.0 43.4h0.8M464.3 41.4h0.8M465.2 43.3h0.8M460.6 41.9h0.8M461.5 39.9h0.8M464.5 42.6h0.8M464.4 40.5h0.8M463.8 40.5h0.8M464.9 44.0h0.8M467.6 45.3h0.8M462.6 41.5h0.8M462.4 43.2h0.8M468.1 44.1h0.8M459.9 39.7h0.8M461.7 43.7h0.8M464.2 43.2h0.8M467.7 40.6h0.8M462.5 46.9h0.8M464.9 40.8h0.8M460.2 39.1h0.8M459.4 42.7h0.8M464.3 44.7h0.8" stroke="#333" stroke-width="0.8" stroke-opacity="0.6375" fill="none"/>
<path d="M463.8 40.4h0.7M462.2 48.3h0.7M459.4 43.0h0.7M464.3 44.4h0.7M463.1 44.0h0.7M466.4 42.1h0.7M463.0 41.9h0.7M461.6 41.9h0.7M463.4 43.1h0.7M467.8 46.5h0.7M463.0 44.3h0.7M465.0 44.8h0.7" stroke="#666" stroke-width="0.7" stroke-opacity="0.51" fill="none"/>
<path d="M369.4 144.8h1.0M368.9 142.3h1.0M370.3 147.4h1.0M370.3 145.3h1.0M369.9 143.2h1.0M366.7 145.5h1.0M369.8 142.9h1.0M367.7 147.1h1.0M366.4 148.1h1.0M369.8 150.0h1.0M368.4 144.0h1.0M368.6 144.5h1.0M369.3 142.4h1.0M371.1 142.5h1.0M368.5 145.5h1.0M368.7 143.1h1.0M370.0 143.4h1.0M367.6 143.8h1.0M368.7 148.2h1.0M367.6 146.4h1.0M368.4 143.2h1.0M368.9 144.8h1.0M370.2 148.5h1.0M368.2 147.3h1.0M370.6 146.3h1.0M368.1 146.2h1.0M369.2 145.0h1.0M368.9 145.7h1.0M370.7 147.1h1.0M368.9 146.5h1.0M371.7 142.2h1.0M371.8 141.2h1.0M370.0 145.7h1.0M371.5 145.1h1.0M368.9 142.2h1.0M367.4 145.8h1.0M369.2 142.5h1.0M370.4 142.5h1.0M368.9 143.0h1.0M371.4 147.9h1.0M369.5 140.4h1.0M369.8 144.4h1.0M369.8 145.6h1.0M368.7 146.4h1.0M370.6 144.8h1.0M368.9 143.0h1.0M370.7 141.7h1.0M369.3 142.4h1.0M367.2 145.4h1.0M369.4 144.3h1.0M371.0 140.8h1.0M369.2 144.9h1.0M370.9 141.7h1.0M370.4 144.8h1.0M371.1 147.1h1.0M369.7 149.4h1.0M369.5 143.2h1.0M369.1 141.9h1.0M369.8 139.7h1.0M369.2 145.2h1.0M370.9 143.5h1.0M371.6 142.8h1.0M369.7 139.7h1.0M368.5 142.2h1.0M371.4 145.6h1.0M367.7 145.3h1.0M370.1 143.7h1.0M369.5 143.5h1.0M369.1 140.0h1.0M369.0 147.2h1.0M371.5 143.8h1.0M368.4 143.6h1.0M370.6 145.1h1.0M368.5 145.0h1.0M369.0 145.4h1.0M369.2 140.7h1.0M369.3 146.0h1.0M367.9 143.8h1.0M370.7 143.5h1.0M368.0 148.8h1.0M370.3 146.7h1.0M367.7 147.9h1.0M367.2 142.8h1.0M370.1 147.4h1.0M368.2 142.5h1.0M370.1 139.7h1.0M370.2 145.6h1.0M368.6 145.4h1.0M370.4 145.0h1.0M369.8 147.8h1.0M368.7 144.5h1.0M368.4 146.5h1.0M368.7 145.2h1.0M369.6 144.4h1.0M371.8 144.2h1.0M371.2 146.3h1.0M371.3 144.0h1.0M370.5 146.1h1.0M368.5 144.7h1.0M369.2 144.1h1.0M371.4 142.7h1.0M367.5 139.9h1.0M368.9 142.6h1.0M369.3 145.5h1.0M371.8 145.2h1.0M370.2 142.6h1.0M369.9 147.4h1.0M371.7 139.9h1.0M370.3 148.0h1.0M370.9 140.9h1.0M368.8 145.5h1.0M370.2 142.4h1.0M367.9 146.3h1.0M367.2 147.3h1.0M369.4 144.9h1.0M367.7 142.6h1.0M370.7 140.9h1.0M372.6 141.3h1.0M367.7 144.1h1.0M369.9 146.0h1.0M368.9 143.7h1.0M369.2 142.8h1.0M365.6 146.0h1.0M369.7 144.6h1.0M368.5 144.7h1.0M369.4 144.0h1.0M371.3 140.4h1.0M370.0 141.8h1.0M368.6 147.6h1.0M367.9 143.8h1.0M368.4 146.3h1.0M368.4 140.2h1.0M370.2 143.5h1.0M368.7 146.6h1.0M368.3 143.2h1.0M369.5 145.2h1.0M368.4 146.5h1.0M372.6 143.6h1.0M372.5 139.6h1.0M371.4 143.6h1.0M369.7 143.4h1.0M368.8 141.2h1.0M368.6 147.1h1.0M371.1 143.6h1.0M368.8 142.5h1.0M367.3 148.2h1.0M370.3 144.6h1.0M369.0 141.8h1.0M371.0 146.2h1.0M367.9 146.3h1.0M367.7 145.5h1.0M368.2 143.1h1.0M370.0 145.3h1.0M371.0 142.4h1.0M371.3 147.5h1.0M369.3 145.3h1.0M368.4 143.7h1.0M367.6 144.2h1.0M369.4 147.3h1.0M370.5 146.2h1.0M369.0 143.6h1.0M368.9 144.7h1.0M366.5 145.7h1.0M367.3 142.8h1.0M369.5 143.0h1.0M371.7 144.2h1.0M371.3 147.1h1.0M368.6 145.0h1.0M371.3 143.6h1.0M369.7 142.9h1.0M369.6 143.4h1.0M369.3 146.5h1.0M371.3 144.7h1.0M369.5 146.2h1.0M369.2 141.7h1.0M371.2 142.2h1.0M370.9 142.1h1.0M372.2 142.1h1.0M370.2 147.8h1.0M367.7 147.5h1.0M368.7 140.0h1.0M370.2 145.9h1.0M369.7 138.4h1.0M369.4 143.5h1.0M368.9 143.5h1.0M367.1 142.7h1.0M371.5 148.0h1.0M369.1 142.5h1.0M369.7 146.7h1.0M370.7 141.6h1.0M369.6 144.5h1.0M371.1 147.1h1.0M369.8 147.1h1.0M368.5 147.7h1.0M368.7 145.0h1.0M370.9 142.2h1.0M368.8 140.1h1.0M369.6 144.1h1.0M368.8 145.3h1.0M366.5 143.9h1.0M369.6 143.6h1.0M370.1 148.3h1.0M369.0 142.0h1.0M368.5 144.3h1.0M370.4 142.3h1.0M371.0 142.0h1.0M370.4 145.3h1.0M369.5 149.2h1.0M369.1 143.8h1.0M369.9 146.2h1.0M367.5 144.6h1.0M368.2 145.5h1.0M371.3 144.5h1.0M369.2 144.6h1.0M365.1 145.6h1.0M370.1 144.7h1.0M369.0 142.5h1.0M368.9 147.0h1.0M368.9 147.3h1.0M365.9 142.8h1.0M369.8 144.2h1.0M367.3 142.4h1.0M371.4 141.4h1.0M368.3 141.5h1.0M368.5 145.6h1.0M370.7 139.6h1.0M371.6 143.0h1.0M368.2 147.9h1.0M369.6 141.3h1.0M368.7 142.4h1.0M368.1 143.3h1.0M370.5 145.1h1.0M366.8 150.4h1.0M368.0 144.3h1.0M369.3 146.0h1.0M368.8 145.2h1.0M372.3 144.7h1.0M367.8 144.8h1.0M368.4 143.2h1.0M369.6 145.0h1.0M368.8 146.1h1.0M369.4 141.2h1.0M370.7 143.5h1.0M371.2 142.9h1.0M370.1 145.0h1.0M366.0 140.4h1.0M367.5 147.3h1.0M366.6 146.0h1.0M370.8 145.5h1.0M370.4 143.2h1.0M369.3 144.7h1.0M369.8 145.9h1.0M369.3 142.6h1.0M368.5 145.1h1.0M367.4 141.1h1.0M369.0 142.9h1.0M369.6 138.1h1.0M369.0 143.6h1.0M370.9 139.8h1.0M368.9 145.2h1.0M369.8 147.0h1.0M371.1 141.9h1.0M370.4 143.5h1.0M367.9 147.6h1.0M368.7 142.2h1.0M369.0 142.2h1.0M370.7 145.2h1.0M371.2 145.3h1.0M368.3 146.5h1.0M368.6 143.0h1.0M369.2 144.3h1.0M371.2 143.0h1.0M369.9 144.2h1.0M367.9 141.5h1.0M369.0 145.1h1.0M369.7 145.3h1.0M369.6 143.2h1.0M370.2 142.0h1.0M367.6 143.2h1.0M367.5 142.8h1.0M368.5 142.8h1.0M369.5 142.4h1.0M369.2 140.2h1.0M369.8 142.2h1.0M370.6 137.7h1.0M368.2 144.6h1.0M366.1 143.0h1.0M369.5 144.5h1.0M367.3 144.5h1.0M369.8 142.0h1.0M370.4 144.2h1.0M369.5 143.2h1.0M370.1 144.5h1.0M370.9 145.4h1.0M368.6 143.6h1.0M370.8 143.5h1.0M369.8 145.5h1.0M369.7 138.8h1.0M369.5 144.7h1.0M369.8 142.5h1.0M371.1 144.1h1.0M368.7 142.5h1.0M370.2 141.7h1.0M367.5 148.7h1.0M371.0 146.8h1.0M371.2 145.8h1.0M366.8 146.7h1.0M371.0 145.5h1.0M366.4 146.8h1.0M371.4 143.3h1.0M369.4 146.0h1.0M369.0 146.7h1.0M369.4 145.8h1.0M369.9 140.8h1.0M367.3 151.4h1.0M369.5 147.3h1.0M370.6 148.3h1.0M370.3 142.9h1.0M369.9 139.8h1.0M368.9 146.3h1.0M366.3 144.4h1.0M370.2 147.4h1.0M368.3 142.6h1.0M367.0 141.6h1.0M369.7 149.1h1.0M367.5 147.2h1.0M370.1 143.1h1.0M373.1 138.7h1.0M369.3 144.7h1.0M372.0 148.7h1.0M372.5 144.8h1.0M370.5 147.5h1.0M370.0 145.1h1.0M369.2 143.2h1.0M367.2 148.6h1.0M369.3 139.3h1.0M369.8 144.2h1.0M369.2 148.4h1.0M369.3 143.6h1.0M368.4 144.0h1.0M368.7 144.6h1.0M373.7 145.6h1.0M367.7 148.6h1.0M370.4 146.2h1.0M370.2 146.2h1.0M370.0 147.6h1.0M370.5 147.5h1.0M368.7 144.1h1.0M368.2 146.3h1.0M370.7 143.2h1.0M369.6 150.4h1.0M371.4 141.8h1.0M369.1 145.7h1.0M369.3 145.1h1.0M371.0 145.1h1.0M367.7 145.7h1.0M369.2 144.5h1.0M368.9 140.9h1.0M367.7 143.2h1.0M368.5 137.7h1.0M371.3 141.7h1.0M368.3 145.3h1.0M365.7 147.0h1.0M368.2 145.6h1.0M368.7 144.8h1.0M369.5 144.2h1.0M367.2 140.5h1.0M369.0 147.5h1.0M368.5 145.4h1.0M369.5 145.3h1.0M371.1 140.9h1.0M369.8 143.8h1.0M369.2 142.2h1.0M368.5 141.7h1.0M367.3 149.9h1.0M371.8 144.5h1.0M370.7 142.0h1.0M365.9 139.6h1.0M369.3 147.6h1.0M369.6 141.9h1.0M369.3 141.8h1.0M367.5 143.5h1.0M369.0 142.3h1.0M368.4 141.9h1.0M369.4 147.5h1.0M368.6 149.4h1.0M367.1 144.6h1.0M367.8 143.7h1.0M369.4 145.5h1.0M371.1 143.1h1.0M367.7 143.6h1.0M370.0 142.6h1.0M370.3 148.2h1.0M367.3 144.8h1.0M371.3 139.9h1.0M369.7 143.7h1.0M367.1 147.1h1.0M369.8 143.1h1.0M369.9 145.8h1.0M370.3 145.7h1.0M370.2 141.5h1.0M368.8 144.4h1.0M365.0 148.8h1.0M369.1 141.7h1.0M366.8 144.5h1.0M369.6 142.8h1.0M369.0 142.1h1.0M368.4 143.9h1.0M368.3 145.7h1.0M369.2 144.5h1.0M369.7 147.2h1.0M370.2 144.8h1.0M369.4 142.3h1.0M368.8 145.7h1.0M369.8 143.3h1.0M367.9 140.4h1.0M369.6 146.6h1.0M370.2 141.1h1.0M369.0 144.7h1.0M368.0 144.9h1.0" stroke="#111" stroke-width="1.0" stroke-opacity="1.0" fill="none"/>
<path d="M369.3 141.4h0.8M366.6 146.6h0.8M370.4 141.4h0.8M367.0 146.9h0.8M370.7 143.3h0.8M372.7 143.6h0.8M366.9 147.5h0.8M368.9 145.3h0.8M369.8 140.9h0.8M367.0 143.3h0.8M372.6 141.2h0.8M372.1 145.2h0.8M367.0 144.8h0.8M370.8 141.4h0.8M364.9 144.9h0.8M367.0 145.4h0.8M365.6 143.3h0.8M368.2 139.2h0.8M368.9 144.7h0.8M368.7 140.2h0.8M370.4 138.6h0.8M370.3 145.9h0.8M372.5 147.4h0.8M370.0 145.1h0.8M369.9 139.9h0.8M372.2 146.2h0.8M369.2 140.4h0.8M372.2 146.2h0.8M366.8 146.1h0.8M373.3 144.5h0.8M370.3 142.9h0.8M367.8 147.6h0.8M375.6 145.2h0.8M368.9 146.8h0.8M368.5 146.5h0.8M371.4 141.1h0.8M367.2 143.7h0.8M371.0 145.3h0.8M372.4 140.0h0.8M370.6 142.3h0.8M369.5 145.3h0.8M367.5 143.3h0.8M367.0 144.8h0.8M367.8 142.4h0.8M370.1 142.1h0.8M371.9 142.4h0.8M371.0 145.3h0.8M367.4 143.3h0.8M367.8 142.9h0.8M368.3 150.0h0.8M368.0 149.2h0.8M370.7 140.1h0.8M364.5 145.9h0.8M365.1 146.1h0.8M371.4 145.7h0.8M369.1 143.3h0.8M370.0 143.3h0.8M368.4 142.9h0.8M372.0 142.4h0.8M370.5 140.5h0.8M368.4 139.6h0.8M368.8 146.4h0.8M370.2 142.7h0.8M370.8 143.2h0.8M370.1 145.2h0.8M371.3 136.3h0.8M366.5 146.4h0.8M368.5 151.4h0.8M369.1 142.4h0.8M372.2 146.3h0.8M373.1 146.2h0.8M368.8 146.5h0.8M368.0 142.6h0.8M368.3 143.4h0.8M371.1 142.8h0.8M370.2 142.7h0.8M372.1 135.5h0.8M368.9 144.7h0.8M366.9 147.3h0.8M369.4 148.4h0.8M371.1 146.5h0.8M369.5 140.7h0.8M369.1 142.7h0.8M370.1 142.7h0.8M376.1 139.7h0.8M371.9 142.9h0.8M368.6 147.1h0.8M369.8 140.3h0.8M370.3 143.7h0.8M365.2 144.4h0.8M367.5 141.6h0.8M370.3 145.3h0.8M368.1 151.1h0.8M370.4 142.3h0.8M369.9 143.9h0.8M365.5 138.7h0.8M365.9 150.6h0.8M369.1 143.3h0.8M367.9 147.3h0.8M368.9 149.7h0.8M370.5 149.7h0.8M369.0 145.4h0.8M368.6 143.6h0.8M366.1 142.0h0.8M367.7 141.9h0.8M371.8 145.3h0.8M371.6 147.2h0.8M370.9 147.6h0.8M367.9 146.7h0.8M368.9 142.4h0.8M371.1 151.4h0.8M366.9 149.6h0.8M371.3 141.6h0.8M369.8 145.5h0.8M370.3 143.1h0.8M366.8 144.0h0.8M370.9 146.9h0.8M370.4 147.9h0.8M367.4 143.9h0.8M369.8 147.5h0.8M369.5 145.9h0.8M369.0 151.0h0.8M365.0 143.7h0.8M374.3 145.5h0.8M365.7 144.3h0.8M366.7 141.7h0.8M369.3 149.8h0.8M370.1 146.4h0.8M371.4 145.1h0.8M367.7 143.7h0.8M370.2 143.4h0.8M368.2 142.9h0.8M366.7 140.6h0.8M369.3 143.0h0.8M369.0 148.7h0.8M370.0 144.2h0.8M367.4 140.5h0.8M370.4 141.5h0.8M370.6 140.8h0.8M369.7 144.0h0.8M371.5 143.1h0.8M368.6 144.9h0.8M369.0 149.6h0.8M369.1 142.4h0.8M368.6 145.7h0.8M369.6 146.5h0.8M365.8 151.9h0.8" stroke="#333" stroke-width="0.8" stroke-opacity="0.75" fill="none"/>
<path d="M374.5 144.6h0.7M366.0 144.5h0.7M371.5 134.6h0.7M370.1 137.8h0.7M370.1 150.4h0.7M372.9 137.9h0.7M372.8 148.5h0.7M368.2 146.3h0.7M373.8 143.2h0.7M369.6 141.8h0.7M373.6 135.1h0.7M373.8 140.4h0.7M372.7 137.4h0.7M367.1 141.3h0.7M372.4 137.4h0.7M371.4 141.6h0.7M373.0 143.2h0.7M370.8 143.6h0.7M374.5 143.1h0.7M368.5 152.9h0.7M369.3 147.2h0.7M367.3 144.9h0.7M363.1 144.0h0.7M368.3 137.5h0.7M365.0 148.8h0.7M371.2 137.7h0.7M374.7 141.7h0.7M368.3 145.2h0.7M367.0 136.8h0.7M366.8 149.2h0.7M372.7 137.6h0.7M372.7 144.7h0.7M370.8 144.6h0.7" stroke="#666" stroke-width="0.7" stroke-opacity="0.6" fill="none"/>
<path d="M386.8 144.1h0.8M384.3 145.0h0.8M385.3 148.8h0.8M383.7 151.6h0.8M384.8 145.3h0.8M387.4 148.3h0.8M385.3 143.9h0.8M384.1 142.4h0.8" stroke="#ccc" stroke-width="0.8" stroke-opacity="1.0" fill="none"/>
<path d="M452.4 151.3h0.8M454.0 148.8h0.8M450.7 149.9h0.8M452.0 145.5h0.8M450.7 155.9h0.8M446.4 140.5h0.8M448.0 149.9h0.8M452.5 145.1h0.8M451.4 146.4h0.8M450.6 144.3h0.8M449.9 146.6h0.8M452.4 156.3h0.8M446.2 148.9h0.8M450.0 150.8h0.8M452.2 150.0h0.8M451.7 142.5h0.8M446.4 153.8h0.8M452.6 142.5h0.8M452.7 149.5h0.8M444.8 150.5h0.8M447.9 151.7h0.8M448.6 143.4h0.8M446.7 145.7h0.8M452.2 143.7h0.8M446.1 155.9h0.8M453.9 149.6h0.8M448.9 141.3h0.8M446.5 149.0h0.8M452.8 142.0h0.8M450.0 145.4h0.8M449.5 148.8h0.8M454.4 143.8h0.8M451.8 151.3h0.8M449.4 146.0h0.8M447.2 151.3h0.8M448.9 143.8h0.8M450.1 142.9h0.8M447.8 145.3h0.8M453.2 145.7h0.8M451.1 140.2h0.8M445.9 154.5h0.8M449.2 139.9h0.8M449.8 149.2h0.8M446.3 142.8h0.8M450.6 142.6h0.8" stroke="#999" stroke-width="0.8" stroke-opacity="1.0" fill="none"/>
<path d="M464.5 151.0h0.8M463.9 146.4h0.8M462.9 145.7h0.8M462.7 148.9h0.8M462.4 151.1h0.8M468.0 146.0h0.8M463.7 150.6h0.8M464.2 147.0h0.8M462.1 151.2h0.8M464.2 149.5h0.8M461.4 149.9h0.8M464.5 147.2h0.8M464.2 155.1h0.8M459.4 149.9h0.8M460.7 143.2h0.8M462.5 149.6h0.8M463.1 143.9h0.8M460.2 145.9h0.8M463.0 145.0h0.8M460.1 153.7h0.8M461.4 147.3h0.8M461.9 145.8h0.8M463.1 146.8h0.8M464.2 143.8h0.8M460.1 154.4h0.8M462.9 150.4h0.8M465.3 149.7h0.8M463.1 142.5h0.8M459.9 151.1h0.8M464.3 149.7h0.8" stroke="#999" stroke-width="0.8" stroke-opacity="1.0" fill="none"/>
<path d="M457.2 127.6h0.8M461.8 133.1h0.8M471.2 134.1h0.8M482.3 136.4h0.8M465.6 145.0h0.8M472.5 134.8h0.8M476.4 151.2h0.8M460.5 138.6h0.8M461.6 128.7h0.8M474.9 144.1h0.8" stroke="#ccc" stroke-width="0.8" stroke-opacity="1.0" fill="none"/>
<path d="M369.3 244.2h1.0M365.3 245.1h1.0M366.3 242.8h1.0M366.9 245.8h1.0M368.6 247.1h1.0M367.2 241.1h1.0M369.7 245.4h1.0M367.1 242.3h1.0M369.2 241.3h1.0M366.5 241.4h1.0M365.2 242.3h1.0M369.9 245.2h1.0M366.5 242.4h1.0M368.0 244.7h1.0M365.2 243.2h1.0M368.1 245.2h1.0M368.2 244.7h1.0M364.7 241.2h1.0M367.6 242.6h1.0M367.4 243.6h1.0M367.9 242.7h1.0M369.6 243.4h1.0M368.8 244.7h1.0M369.4 244.1h1.0M365.2 244.1h1.0M370.4 243.8h1.0M368.8 244.5h1.0M366.6 243.5h1.0M367.7 246.1h1.0M369.3 246.5h1.0M369.6 246.6h1.0M367.7 242.2h1.0M370.2 243.7h1.0M369.4 243.8h1.0M367.5 244.5h1.0M365.7 243.0h1.0M366.4 243.8h1.0M366.0 244.7h1.0M369.4 246.9h1.0M370.1 243.0h1.0M368.8 243.3h1.0M368.3 243.8h1.0M367.2 244.5h1.0M366.2 245.5h1.0M366.8 242.7h1.0M367.7 245.1h1.0M367.2 245.2h1.0M369.5 246.1h1.0M366.4 244.5h1.0M369.4 246.0h1.0M368.6 245.1h1.0M365.6 244.0h1.0M369.7 242.8h1.0M370.1 241.9h1.0M366.5 241.9h1.0M368.8 244.1h1.0M370.5 243.3h1.0M366.6 242.2h1.0M368.3 245.5h1.0M369.5 245.5h1.0M368.9 243.6h1.0M368.7 244.0h1.0M367.2 247.3h1.0M367.6 242.4h1.0M368.5 244.3h1.0M370.0 245.7h1.0M364.3 246.5h1.0M369.2 241.9h1.0M365.6 245.5h1.0M368.4 244.4h1.0M366.1 244.0h1.0M368.5 245.1h1.0M370.8 243.3h1.0M365.6 241.0h1.0M369.1 243.3h1.0M367.1 242.7h1.0M367.6 241.1h1.0M368.0 244.2h1.0M369.0 245.8h1.0M367.7 244.3h1.0M367.9 241.4h1.0M367.5 244.4h1.0M368.5 242.4h1.0M369.1 244.2h1.0M365.0 242.7h1.0M366.1 245.1h1.0M368.5 245.0h1.0M368.5 242.8h1.0M369.7 244.7h1.0M368.7 244.5h1.0M366.4 245.3h1.0M365.7 242.9h1.0M367.4 244.5h1.0M367.5 243.6h1.0M366.6 244.9h1.0M366.0 242.4h1.0M368.8 246.2h1.0M366.6 242.8h1.0M370.6 245.9h1.0M367.3 244.0h1.0M369.9 248.3h1.0M368.6 245.5h1.0M367.2 241.2h1.0M365.6 242.9h1.0M368.4 244.0h1.0M369.9 242.7h1.0M368.2 244.0h1.0M369.4 247.4h1.0M369.1 246.1h1.0M369.1 242.5h1.0M368.4 243.2h1.0M368.0 244.3h1.0M367.5 243.4h1.0M369.6 242.9h1.0M369.7 246.2h1.0M369.2 245.3h1.0M370.3 244.9h1.0M369.1 241.1h1.0M370.3 243.1h1.0M365.2 244.1h1.0M366.0 244.8h1.0M365.3 243.4h1.0M368.3 244.2h1.0M366.6 244.2h1.0M367.7 244.3h1.0M367.7 243.8h1.0M367.9 241.3h1.0M367.2 244.6h1.0M366.9 243.5h1.0M367.4 244.6h1.0M369.3 243.1h1.0M367.7 244.8h1.0M366.3 241.4h1.0M367.9 243.4h1.0M367.5 245.3h1.0M367.5 243.2h1.0M363.9 242.8h1.0M367.7 243.9h1.0M368.5 244.2h1.0M366.4 242.5h1.0M366.3 244.5h1.0M366.8 245.8h1.0M365.0 242.2h1.0M366.4 241.6h1.0M369.3 241.8h1.0M367.6 243.8h1.0M365.6 241.9h1.0M365.9 246.4h1.0M370.5 246.7h1.0M366.3 245.7h1.0M368.3 245.4h1.0M367.6 245.4h1.0M369.3 244.5h1.0M369.6 243.1h1.0M369.4 242.2h1.0M368.2 239.1h1.0M367.3 242.9h1.0M368.4 245.6h1.0M368.8 243.8h1.0M369.1 241.0h1.0M367.7 246.8h1.0M366.9 240.9h1.0M367.5 242.2h1.0M370.4 245.0h1.0M367.9 246.3h1.0M367.3 245.9h1.0M368.5 243.6h1.0M365.8 244.5h1.0M364.5 244.5h1.0M366.2 246.9h1.0M365.0 241.0h1.0M368.8 244.3h1.0M368.5 247.5h1.0M368.8 243.8h1.0M365.1 240.1h1.0M369.0 245.3h1.0M366.2 242.3h1.0M366.7 241.7h1.0M368.3 245.2h1.0M369.9 243.7h1.0M368.5 245.1h1.0M369.4 242.9h1.0M365.7 243.6h1.0M365.6 243.5h1.0M367.9 244.7h1.0M368.0 244.1h1.0M367.6 244.9h1.0M369.4 244.7h1.0M369.6 242.9h1.0M368.5 246.7h1.0M368.3 244.6h1.0M368.0 245.7h1.0M366.7 242.8h1.0M367.4 243.5h1.0M368.6 243.1h1.0M367.8 243.7h1.0M367.8 243.0h1.0M368.3 241.4h1.0M366.9 243.3h1.0M368.7 243.8h1.0M368.2 243.3h1.0M366.2 242.8h1.0M367.0 243.5h1.0M368.4 244.5h1.0M369.0 243.4h1.0M366.2 242.9h1.0M368.1 244.6h1.0M370.4 243.3h1.0M371.2 245.9h1.0M367.2 246.5h1.0M370.1 245.5h1.0M368.4 245.5h1.0M367.1 244.3h1.0M368.9 246.7h1.0M368.1 245.6h1.0M367.4 243.0h1.0M368.5 244.9h1.0M367.3 245.4h1.0M366.3 243.2h1.0M367.9 243.6h1.0M365.5 242.2h1.0M368.0 244.4h1.0M367.3 244.6h1.0M366.1 245.5h1.0M368.5 244.3h1.0M367.1 244.6h1.0M368.6 245.6h1.0M368.3 244.3h1.0M367.4 245.8h1.0M369.0 242.7h1.0M368.8 244.2h1.0M366.9 242.2h1.0M368.9 240.4h1.0M368.0 243.4h1.0M369.0 242.9h1.0M368.2 245.0h1.0M368.1 243.1h1.0M368.9 244.3h1.0M368.8 242.8h1.0M367.5 243.5h1.0M366.9 244.9h1.0M369.2 246.0h1.0M367.6 244.8h1.0M369.2 243.3h1.0M368.0 244.3h1.0M366.3 243.0h1.0M369.3 243.7h1.0M366.9 242.3h1.0M368.7 245.8h1.0M365.8 243.4h1.0M370.1 245.6h1.0M369.5 242.4h1.0M368.1 242.7h1.0M368.2 243.3h1.0M368.9 246.0h1.0M368.1 243.6h1.0M368.0 244.5h1.0M367.3 244.7h1.0M369.5 246.1h1.0M364.4 243.5h1.0M366.8 246.1h1.0M371.0 243.1h1.0M368.7 245.7h1.0M364.6 245.2h1.0M363.9 246.0h1.0M366.8 243.7h1.0M367.9 243.1h1.0M369.2 243.5h1.0M369.9 247.6h1.0M367.8 245.7h1.0M367.5 246.4h1.0M369.1 243.8h1.0M370.1 245.9h1.0M369.6 243.4h1.0M368.4 245.7h1.0M365.5 244.0h1.0M368.8 244.7h1.0M371.3 245.7h1.0M368.5 244.6h1.0M366.0 244.5h1.0M368.0 243.6h1.0M368.3 245.0h1.0M366.2 243.8h1.0M366.2 246.7h1.0M365.4 242.2h1.0M368.7 243.4h1.0M368.8 243.0h1.0M371.0 244.0h1.0M368.1 244.2h1.0M368.0 245.4h1.0M370.1 242.4h1.0M366.8 245.6h1.0M368.2 241.4h1.0M366.3 243.0h1.0M368.8 244.5h1.0M366.2 242.9h1.0M367.4 240.7h1.0M368.5 243.5h1.0M370.9 244.5h1.0M366.9 244.0h1.0" stroke="#111" stroke-width="1.0" stroke-opacity="1.0" fill="none"/>
<path d="M366.7 242.8h0.8M368.8 246.0h0.8M364.8 244.8h0.8M371.2 244.4h0.8M365.6 243.1h0.8M364.8 241.5h0.8M370.0 243.3h0.8M365.3 241.7h0.8M366.7 243.4h0.8M370.6 241.8h0.8M368.9 246.2h0.8M368.9 243.2h0.8M365.0 248.6h0.8M368.5 242.8h0.8M366.8 242.2h0.8M364.9 241.8h0.8M369.2 244.8h0.8M368.8 245.5h0.8M368.9 243.9h0.8M366.7 246.0h0.8M370.5 244.5h0.8M369.7 242.2h0.8M367.1 247.4h0.8M366.9 245.0h0.8M367.5 244.3h0.8M366.8 243.2h0.8M366.2 249.3h0.8M366.5 240.0h0.8M365.2 242.5h0.8M364.3 239.5h0.8M370.3 247.0h0.8M368.0 245.8h0.8M367.8 241.1h0.8M368.6 239.7h0.8M366.4 243.8h0.8M370.2 243.4h0.8M366.9 242.6h0.8M368.0 244.1h0.8M370.3 246.4h0.8M369.2 243.6h0.8M368.9 247.5h0.8M368.2 243.9h0.8M372.4 245.9h0.8M368.7 243.4h0.8M367.6 246.7h0.8M367.8 246.4h0.8M366.5 244.9h0.8M368.7 244.1h0.8M368.6 244.7h0.8M364.8 242.7h0.8M369.1 247.9h0.8M366.8 242.3h0.8M366.6 244.7h0.8M369.5 242.0h0.8M369.0 244.0h0.8M366.3 242.5h0.8M366.9 242.8h0.8M367.3 240.1h0.8M370.5 244.8h0.8M370.1 246.7h0.8M367.4 240.2h0.8M368.3 245.0h0.8M365.6 242.3h0.8M369.0 244.8h0.8M366.8 243.9h0.8M366.4 243.3h0.8M368.6 246.3h0.8M364.6 244.7h0.8M371.0 243.5h0.8M368.8 245.7h0.8M364.9 242.4h0.8M363.5 242.4h0.8M369.0 245.6h0.8M366.5 243.1h0.8M369.1 245.0h0.8M366.6 240.1h0.8M364.7 239.4h0.8M367.5 242.2h0.8M367.9 247.6h0.8M370.6 244.1h0.8M368.4 244.2h0.8M366.7 244.4h0.8M370.5 240.9h0.8M366.7 244.9h0.8M370.1 245.1h0.8M365.9 244.6h0.8M366.3 241.8h0.8M367.5 243.1h0.8M369.8 244.3h0.8M366.4 244.9h0.8M366.6 243.1h0.8M367.8 246.6h0.8M365.6 241.0h0.8M367.1 246.3h0.8M370.8 240.3h0.8M366.9 243.7h0.8M365.6 246.0h0.8M367.9 244.7h0.8M371.6 241.8h0.8M370.0 245.2h0.8M366.1 243.4h0.8M371.2 244.3h0.8M367.1 241.8h0.8M369.9 244.5h0.8M373.0 245.4h0.8" stroke="#333" stroke-width="0.8" stroke-opacity="0.75" fill="none"/>
<path d="M370.1 244.0h0.7M367.3 242.5h0.7M368.9 244.4h0.7M370.7 246.4h0.7M368.0 242.3h0.7M371.6 247.5h0.7M366.2 246.1h0.7M369.8 245.0h0.7M369.0 243.3h0.7M369.5 248.8h0.7M370.5 238.4h0.7M361.9 248.0h0.7M365.5 243.4h0.7M364.2 246.8h0.7M367.0 242.7h0.7M372.9 249.8h0.7M372.8 245.7h0.7M367.5 246.3h0.7M369.0 247.3h0.7M369.2 243.4h0.7M368.4 241.6h0.7M371.5 247.4h0.7M367.5 246.0h0.7M364.7 248.4h0.7" stroke="#666" stroke-width="0.7" stroke-opacity="0.6" fill="none"/>
<path d="M396.8 243.0h0.8M403.6 246.3h0.8M376.6 242.0h0.8M396.8 245.2h0.8M398.6 241.5h0.8M389.2 248.8h0.8" stroke="#ccc" stroke-width="0.8" stroke-opacity="1.0" fill="none"/>
<path d="M446.5 245.3h1.0M447.0 244.6h1.0M448.0 248.8h1.0M445.7 245.5h1.0M449.4 241.3h1.0M447.6 249.0h1.0M449.0 237.2h1.0M447.2 240.0h1.0M447.9 242.2h1.0M446.7 241.9h1.0M447.9 242.8h1.0M446.2 243.3h1.0M448.1 241.9h1.0M449.1 240.1h1.0M448.1 242.9h1.0M449.8 242.4h1.0M446.5 240.8h1.0M450.4 245.2h1.0M445.9 243.0h1.0M446.1 247.2h1.0M448.1 239.3h1.0M447.8 245.8h1.0M447.5 244.9h1.0M447.3 244.3h1.0M447.8 242.2h1.0M448.0 244.2h1.0M447.4 242.3h1.0M446.0 244.4h1.0M448.7 238.4h1.0M446.7 246.8h1.0M448.8 242.2h1.0M449.5 241.6h1.0M446.3 248.1h1.0M446.9 243.3h1.0M445.1 241.5h1.0M445.8 243.5h1.0M444.8 246.2h1.0M447.0 242.4h1.0M446.6 245.5h1.0M449.7 242.9h1.0M449.9 247.4h1.0M449.5 244.5h1.0M445.3 245.3h1.0M446.9 244.2h1.0M444.8 243.2h1.0M447.8 241.7h1.0M447.9 247.5h1.0M447.8 242.3h1.0M451.0 239.0h1.0M446.2 244.7h1.0M446.6 238.7h1.0M447.9 245.7h1.0M446.3 247.1h1.0M448.2 246.5h1.0M445.3 243.8h1.0M449.8 248.3h1.0M449.4 243.8h1.0M447.8 242.4h1.0M449.1 242.2h1.0M447.7 239.2h1.0M445.3 247.8h1.0M447.6 244.3h1.0M444.3 243.7h1.0M450.5 240.4h1.0M444.0 243.4h1.0M446.7 243.3h1.0M445.7 240.8h1.0M445.7 245.2h1.0M447.4 245.6h1.0M445.9 245.1h1.0M446.9 244.0h1.0M448.9 243.9h1.0M447.0 240.1h1.0M447.6 245.6h1.0M446.6 243.7h1.0M444.9 240.8h1.0M448.1 246.7h1.0M447.0 240.0h1.0M446.9 240.3h1.0M447.1 248.1h1.0M447.9 243.5h1.0M449.0 242.9h1.0M448.0 244.3h1.0M448.2 240.5h1.0M448.5 245.8h1.0M444.1 237.7h1.0M446.2 247.2h1.0M447.5 245.3h1.0M448.3 245.8h1.0M446.6 242.5h1.0M448.1 245.2h1.0M448.3 244.6h1.0M446.8 246.3h1.0M448.2 246.2h1.0M443.8 246.1h1.0M443.9 244.3h1.0M446.5 244.1h1.0M446.8 243.1h1.0M447.8 244.6h1.0M446.3 238.1h1.0M446.3 245.0h1.0M446.3 244.8h1.0M447.0 241.7h1.0M449.2 247.6h1.0M447.3 243.7h1.0M448.9 240.8h1.0M446.2 246.4h1.0M448.8 242.7h1.0M446.3 244.6h1.0M445.4 242.7h1.0M447.2 238.2h1.0M448.4 245.5h1.0M449.1 240.5h1.0M445.6 241.9h1.0M445.6 248.5h1.0M446.1 243.1h1.0M447.8 244.8h1.0M449.7 241.3h1.0M448.8 244.1h1.0M445.8 244.1h1.0M445.4 247.5h1.0M446.4 246.1h1.0M449.4 242.4h1.0M446.2 244.1h1.0M445.9 245.9h1.0M447.8 242.1h1.0M446.5 245.5h1.0M445.3 247.7h1.0M446.3 243.4h1.0M446.1 247.5h1.0M448.7 246.8h1.0M448.5 244.0h1.0M450.0 245.3h1.0M448.2 245.1h1.0M448.6 244.4h1.0M447.3 240.1h1.0M450.6 240.8h1.0M444.3 242.2h1.0M450.4 246.6h1.0M446.6 244.4h1.0M447.5 239.3h1.0M447.0 244.5h1.0M449.3 241.0h1.0M444.1 240.2h1.0M448.0 244.0h1.0M447.7 244.1h1.0M447.0 240.7h1.0M448.2 244.7h1.0M448.4 246.7h1.0M445.6 238.4h1.0M444.8 248.7h1.0M446.1 244.7h1.0M447.5 245.5h1.0M452.3 242.6h1.0M447.2 242.4h1.0M447.9 245.0h1.0M446.0 246.8h1.0M449.2 244.8h1.0M447.3 243.3h1.0M445.0 245.3h1.0M446.0 242.6h1.0M449.0 241.7h1.0M446.7 245.8h1.0M450.3 242.2h1.0M449.2 242.3h1.0M448.1 244.9h1.0M445.8 246.2h1.0M450.2 243.9h1.0M447.9 241.1h1.0M450.2 243.9h1.0M445.6 245.6h1.0M445.3 242.2h1.0M444.3 247.0h1.0M450.8 242.3h1.0M446.5 242.5h1.0M446.7 245.1h1.0M449.7 241.5h1.0M448.2 239.7h1.0M449.8 243.6h1.0M446.4 247.3h1.0M447.3 247.0h1.0M449.1 247.6h1.0M446.3 243.9h1.0M448.1 243.4h1.0M449.8 242.2h1.0M449.0 246.9h1.0M444.6 241.6h1.0M446.1 242.5h1.0M448.1 243.4h1.0M447.6 242.7h1.0M447.4 244.9h1.0M448.6 242.0h1.0M447.3 242.0h1.0M447.2 240.5h1.0M448.9 245.3h1.0M447.3 242.2h1.0M446.8 242.3h1.0M445.2 247.6h1.0M452.4 241.0h1.0M445.7 245.1h1.0M448.4 240.2h1.0M444.6 245.0h1.0M444.5 247.1h1.0M446.8 244.0h1.0M447.5 242.5h1.0M447.3 243.1h1.0M449.4 243.6h1.0M447.5 242.6h1.0M446.5 242.1h1.0M447.5 248.0h1.0M449.2 244.3h1.0M450.0 246.1h1.0M447.8 243.4h1.0M445.9 244.4h1.0M447.0 240.2h1.0M445.6 248.3h1.0M447.8 244.9h1.0M447.8 242.7h1.0M448.2 246.3h1.0M447.0 245.0h1.0M449.0 242.7h1.0M447.8 242.1h1.0M448.4 243.0h1.0M449.2 242.0h1.0M450.0 243.1h1.0M446.2 241.7h1.0M448.5 241.8h1.0M450.2 246.7h1.0M448.3 240.5h1.0M447.5 242.1h1.0M444.8 244.8h1.0M450.8 242.6h1.0M448.7 246.8h1.0M446.1 243.0h1.0M447.9 244.9h1.0M445.8 244.3h1.0M447.3 246.0h1.0M445.1 242.5h1.0M446.7 243.1h1.0M448.6 242.4h1.0M451.6 242.2h1.0M448.8 246.1h1.0M448.9 243.3h1.0M446.3 243.2h1.0M448.5 244.1h1.0M448.4 245.1h1.0M446.2 241.6h1.0M449.7 242.7h1.0M445.1 248.1h1.0M446.2 241.7h1.0M449.0 241.2h1.0M446.2 246.2h1.0M446.3 249.6h1.0M447.6 250.0h1.0M447.7 243.9h1.0M446.5 243.3h1.0M446.7 243.7h1.0M448.7 240.9h1.0M446.1 239.0h1.0M449.8 243.6h1.0M447.5 243.7h1.0M449.0 244.5h1.0M448.8 243.4h1.0M447.3 243.7h1.0M444.7 246.3h1.0M445.1 241.5h1.0M448.5 243.9h1.0M448.7 247.7h1.0M450.3 247.0h1.0M447.2 248.5h1.0M446.2 243.6h1.0M449.0 243.3h1.0M447.3 243.0h1.0M449.5 238.1h1.0M449.4 246.2h1.0M447.4 245.1h1.0M446.0 246.4h1.0M452.1 241.7h1.0M449.6 243.7h1.0M447.0 242.7h1.0M447.2 240.9h1.0M445.5 247.6h1.0M447.5 245.1h1.0M448.0 244.9h1.0M445.2 241.6h1.0M448.4 246.1h1.0M445.8 242.5h1.0M445.9 245.3h1.0M448.0 243.9h1.0M446.5 244.6h1.0M447.5 242.1h1.0M448.0 242.3h1.0M448.9 245.2h1.0M446.5 245.2h1.0M447.6 242.2h1.0M446.1 240.0h1.0M445.8 244.6h1.0M449.3 242.4h1.0M447.7 244.6h1.0M448.7 244.8h1.0M449.3 245.6h1.0M446.4 244.7h1.0M444.0 243.4h1.0M447.5 245.1h1.0M447.0 245.7h1.0M449.5 241.9h1.0M446.7 244.4h1.0M448.2 244.1h1.0M448.7 241.1h1.0M448.7 246.5h1.0M449.2 244.8h1.0M447.1 244.7h1.0M447.4 240.2h1.0M446.6 243.7h1.0M446.7 241.7h1.0M447.2 242.9h1.0M447.6 243.7h1.0M447.8 246.1h1.0M447.7 244.7h1.0M445.7 237.0h1.0M446.9 245.4h1.0M447.0 242.4h1.0M445.6 245.9h1.0M446.7 244.4h1.0M449.2 245.0h1.0M450.9 243.5h1.0M448.9 245.4h1.0M446.5 243.9h1.0M446.7 241.4h1.0M447.9 242.0h1.0M450.0 242.1h1.0M446.7 244.0h1.0M446.7 243.9h1.0M446.6 240.5h1.0M443.9 240.8h1.0M449.8 244.8h1.0M447.7 242.7h1.0M447.3 244.5h1.0M445.4 242.0h1.0M446.2 246.7h1.0M445.9 246.5h1.0M446.8 250.1h1.0M447.4 243.9h1.0M449.5 245.8h1.0M448.9 241.3h1.0M449.2 247.7h1.0M447.3 242.7h1.0M445.9 246.1h1.0M447.9 243.8h1.0M445.6 247.5h1.0M448.8 243.8h1.0M449.7 241.6h1.0M448.8 241.5h1.0M449.6 243.2h1.0M449.3 242.8h1.0M448.1 246.4h1.0M446.1 244.0h1.0M446.2 245.8h1.0M446.6 242.9h1.0M447.2 246.5h1.0M445.9 243.7h1.0M447.0 242.5h1.0M446.3 243.4h1.0M447.8 240.2h1.0M447.9 241.1h1.0M447.5 249.0h1.0M446.0 243.6h1.0M447.1 246.1h1.0M446.8 239.7h1.0M445.1 244.2h1.0M447.9 246.3h1.0M446.7 245.3h1.0M445.9 246.8h1.0M447.4 242.2h1.0M447.8 247.8h1.0M446.2 240.9h1.0M446.0 241.1h1.0M447.4 244.6h1.0M447.3 244.3h1.0M449.3 243.1h1.0" stroke="#111" stroke-width="1.0" stroke-opacity="1.0" fill="none"/>
<path d="M444.8 236.4h0.8M448.0 241.6h0.8M447.0 245.1h0.8M448.5 238.8h0.8M445.4 244.0h0.8M447.2 247.5h0.8M446.4 237.2h0.8M450.0 238.5h0.8M445.4 245.1h0.8M445.2 251.8h0.8M448.0 245.5h0.8M446.6 250.9h0.8M448.7 241.5h0.8M450.2 238.4h0.8M446.2 244.7h0.8M447.8 240.7h0.8M450.9 248.5h0.8M445.5 245.0h0.8M446.1 242.4h0.8M449.6 244.2h0.8M447.3 244.1h0.8M445.0 247.7h0.8M445.9 248.0h0.8M446.5 242.3h0.8M450.7 244.4h0.8M446.1 242.1h0.8M448.8 249.8h0.8M448.8 242.5h0.8M445.1 241.6h0.8M447.2 244.6h0.8M446.1 247.9h0.8M445.4 241.5h0.8M448.6 245.3h0.8M446.7 246.9h0.8M444.4 249.1h0.8M452.3 250.1h0.8M447.8 250.1h0.8M447.6 248.1h0.8M447.1 244.4h0.8M448.6 238.2h0.8M447.0 249.3h0.8M441.1 245.0h0.8M449.5 244.9h0.8M447.9 248.3h0.8M448.2 237.7h0.8M445.4 242.8h0.8M447.8 242.4h0.8M447.3 249.2h0.8M441.1 247.5h0.8M449.5 245.7h0.8M447.5 244.0h0.8M448.3 244.6h0.8M445.9 246.3h0.8M445.7 243.7h0.8M446.7 240.1h0.8M448.8 243.6h0.8M445.0 243.5h0.8M444.5 248.4h0.8M448.6 250.2h0.8M446.3 246.1h0.8M445.4 241.1h0.8M447.3 245.1h0.8M449.5 242.9h0.8M449.9 246.9h0.8M445.6 243.2h0.8M445.5 249.3h0.8M446.3 246.6h0.8M449.5 243.0h0.8M446.4 244.9h0.8M445.8 239.7h0.8M445.4 244.9h0.8M447.9 249.5h0.8M443.5 245.4h0.8M445.0 247.5h0.8M449.0 244.2h0.8M450.7 242.6h0.8M446.4 240.4h0.8M446.1 244.2h0.8M449.0 247.9h0.8M446.9 241.5h0.8M446.8 242.4h0.8M446.5 242.5h0.8M445.6 243.6h0.8M446.4 243.3h0.8M444.5 244.3h0.8M448.7 245.9h0.8M446.3 240.2h0.8M444.7 240.1h0.8M446.1 242.8h0.8M443.7 245.9h0.8M444.2 241.6h0.8M445.9 246.4h0.8M451.5 242.7h0.8M446.9 242.5h0.8M447.1 243.3h0.8M452.8 240.3h0.8M447.3 241.3h0.8M448.3 242.1h0.8M448.7 240.4h0.8M452.0 244.5h0.8M443.7 246.0h0.8M446.5 240.1h0.8M448.5 242.1h0.8M449.1 242.1h0.8M449.4 244.3h0.8M448.3 244.3h0.8M446.7 242.7h0.8M448.5 246.1h0.8M446.6 250.9h0.8M451.1 240.2h0.8M449.8 243.6h0.8M448.0 241.3h0.8M451.1 241.2h0.8M447.3 241.5h0.8M451.7 247.8h0.8M444.7 242.4h0.8M448.3 242.4h0.8M446.7 240.4h0.8M448.0 240.3h0.8M449.3 251.4h0.8M446.8 249.0h0.8M448.3 241.7h0.8M446.8 240.8h0.8M447.7 246.0h0.8M449.5 242.9h0.8M444.9 243.6h0.8M451.1 244.7h0.8M447.4 237.2h0.8M446.6 245.5h0.8M445.5 248.1h0.8M446.3 241.0h0.8M446.3 243.5h0.8M449.6 242.0h0.8" stroke="#333" stroke-width="0.8" stroke-opacity="0.75" fill="none"/>
<path d="M442.2 243.5h0.7M449.0 250.4h0.7M444.2 250.2h0.7M449.5 245.8h0.7M445.2 240.0h0.7M444.7 247.8h0.7M448.1 248.4h0.7M452.9 243.9h0.7M447.4 252.0h0.7M443.6 241.9h0.7M446.4 242.2h0.7M447.9 240.2h0.7M450.9 238.0h0.7M445.1 236.6h0.7M443.4 246.3h0.7M449.4 243.0h0.7M450.0 246.5h0.7M445.8 243.7h0.7M448.6 252.4h0.7M446.2 245.4h0.7M449.1 249.0h0.7M448.8 248.4h0.7M444.4 242.7h0.7M441.8 243.6h0.7M454.4 244.9h0.7M447.8 245.0h0.7M447.9 238.2h0.7M445.5 243.1h0.7M448.0 240.1h0.7M447.2 240.7h0.7" stroke="#666" stroke-width="0.7" stroke-opacity="0.6" fill="none"/>
<path d="M456.4 245.9h0.8M458.1 249.4h0.8M465.3 248.8h0.8M460.1 246.1h0.8M455.6 246.2h0.8M466.0 250.1h0.8M461.6 246.8h0.8M460.8 248.4h0.8M460.8 248.4h0.8M458.2 247.5h0.8M459.6 249.9h0.8M456.7 250.5h0.8M460.5 246.2h0.8M460.9 247.7h0.8M460.0 248.4h0.8M458.9 243.4h0.8M463.1 247.4h0.8M466.4 248.3h0.8M454.1 250.3h0.8M458.5 248.7h0.8M468.2 250.0h0.8M457.1 247.2h0.8M455.4 249.0h0.8M462.7 245.0h0.8M462.3 249.6h0.8M463.5 245.8h0.8M458.5 244.8h0.8M456.5 248.2h0.8M460.9 250.5h0.8M461.7 246.7h0.8M456.0 251.0h0.8M461.4 247.3h0.8M457.4 245.0h0.8M462.9 245.1h0.8M462.8 248.9h0.8M459.5 243.6h0.8M462.2 250.7h0.8M458.0 244.5h0.8M464.4 247.8h0.8M458.7 250.3h0.8M459.9 248.5h0.8M459.5 245.7h0.8M461.5 245.4h0.8M454.9 246.2h0.8M464.9 250.0h0.8M468.1 249.7h0.8M466.2 248.0h0.8M459.3 248.5h0.8M457.6 249.1h0.8M459.3 248.0h0.8M458.0 247.1h0.8M464.1 246.9h0.8M458.6 248.1h0.8M463.7 247.0h0.8M456.9 243.8h0.8M456.3 249.9h0.8M460.5 248.5h0.8M464.4 248.1h0.8M462.4 246.2h0.8M455.4 248.9h0.8M460.5 248.8h0.8M457.2 247.1h0.8M467.5 245.5h0.8M461.1 250.5h0.8M460.0 247.7h0.8M453.7 249.2h0.8M459.3 250.4h0.8M460.5 246.6h0.8M462.3 246.9h0.8M459.1 251.0h0.8M464.1 247.7h0.8M463.5 249.3h0.8M462.7 247.5h0.8M461.0 248.4h0.8M462.7 248.3h0.8M459.0 247.3h0.8M462.3 245.2h0.8M460.8 249.2h0.8M461.4 246.8h0.8M460.7 246.3h0.8M464.1 246.6h0.8M455.3 244.6h0.8M461.8 247.9h0.8M459.2 244.4h0.8M460.3 245.5h0.8M458.6 247.4h0.8M458.2 248.2h0.8M458.3 246.4h0.8M460.0 250.8h0.8M466.0 249.6h0.8" stroke="#777" stroke-width="0.8" stroke-opacity="1.0" fill="none"/>
</g>
</svg>
</body></html>
